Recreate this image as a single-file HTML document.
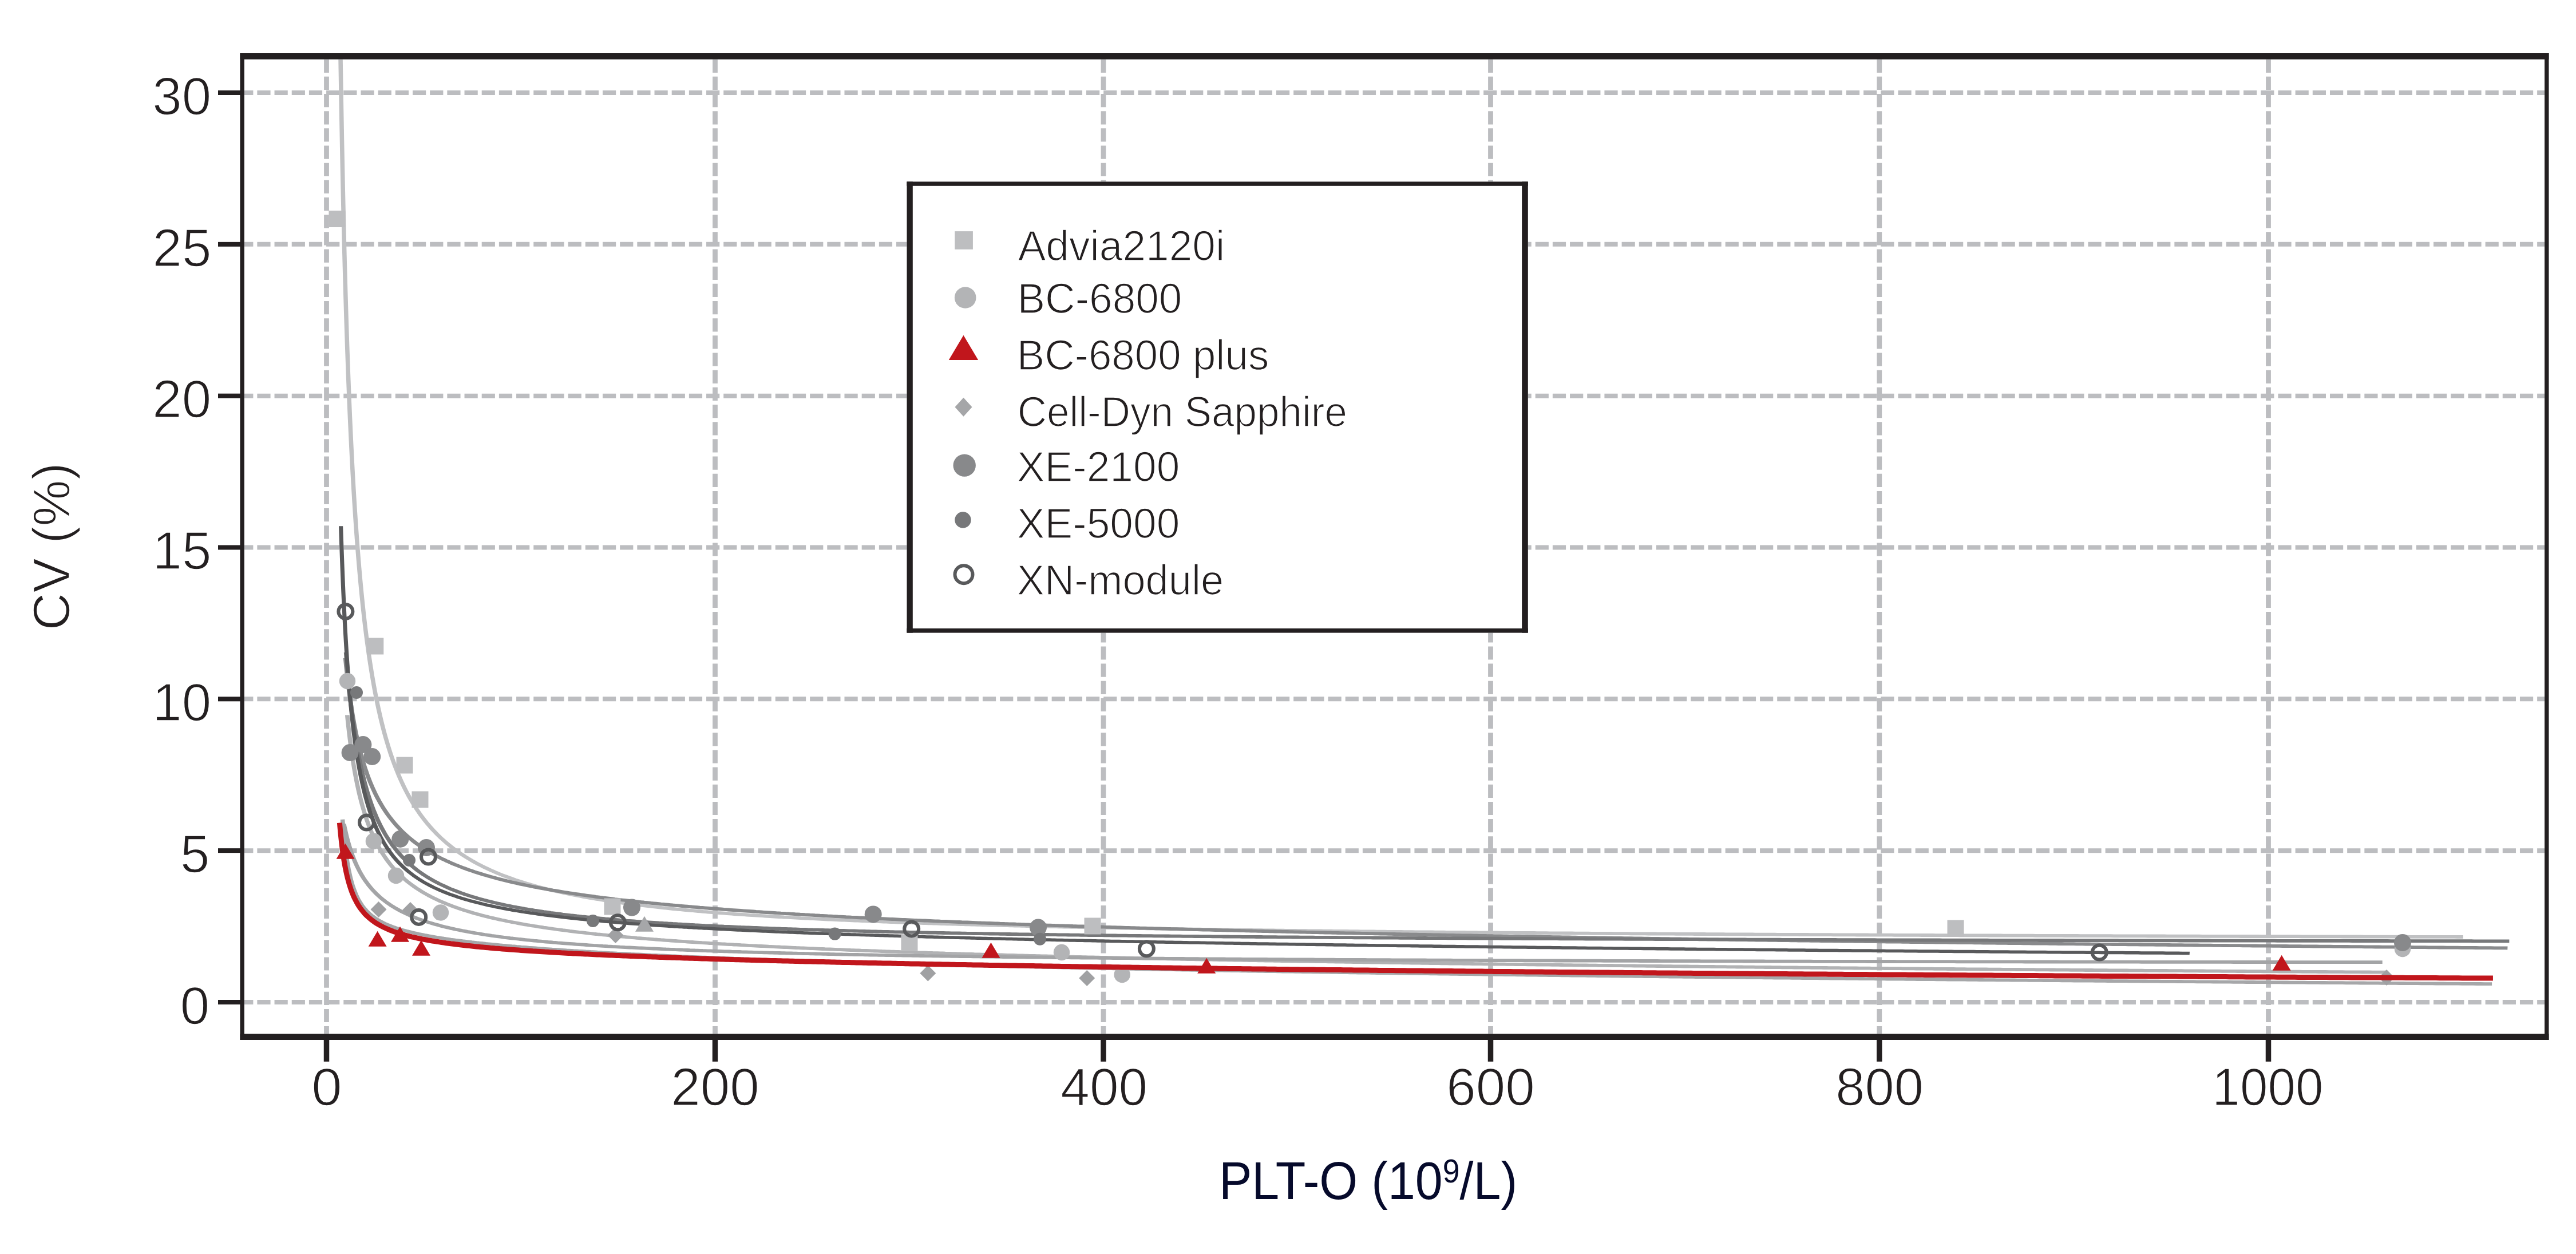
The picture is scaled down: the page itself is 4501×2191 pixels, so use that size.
<!DOCTYPE html>
<html><head><meta charset="utf-8"><style>
html,body{margin:0;padding:0;background:#ffffff;width:4501px;height:2191px;overflow:hidden}
svg{display:block}
text{font-family:"Liberation Sans",sans-serif}
</style></head><body>
<svg width="4501" height="2191" viewBox="0 0 4501 2191"><clipPath id="pc"><rect x="427.0" y="104.0" width="4019.0" height="1702.0"/></clipPath>
<g clip-path="url(#pc)">
<line x1="419.2" y1="1751.00" x2="4460" y2="1751.00" stroke="#bcbdc0" stroke-width="8" stroke-dasharray="23.2 6.98"/>
<line x1="419.2" y1="1486.16" x2="4460" y2="1486.16" stroke="#bcbdc0" stroke-width="8" stroke-dasharray="23.2 6.98"/>
<line x1="419.2" y1="1221.33" x2="4460" y2="1221.33" stroke="#bcbdc0" stroke-width="8" stroke-dasharray="23.2 6.98"/>
<line x1="419.2" y1="956.50" x2="4460" y2="956.50" stroke="#bcbdc0" stroke-width="8" stroke-dasharray="23.2 6.98"/>
<line x1="419.2" y1="691.66" x2="4460" y2="691.66" stroke="#bcbdc0" stroke-width="8" stroke-dasharray="23.2 6.98"/>
<line x1="419.2" y1="426.83" x2="4460" y2="426.83" stroke="#bcbdc0" stroke-width="8" stroke-dasharray="23.2 6.98"/>
<line x1="419.2" y1="161.99" x2="4460" y2="161.99" stroke="#bcbdc0" stroke-width="8" stroke-dasharray="23.2 6.98"/>
<line x1="570.50" y1="103.7" x2="570.50" y2="1817" stroke="#bcbdc0" stroke-width="8.8" stroke-dasharray="23.2 6.967"/>
<line x1="1249.50" y1="103.7" x2="1249.50" y2="1817" stroke="#bcbdc0" stroke-width="8.8" stroke-dasharray="23.2 6.967"/>
<line x1="1928.00" y1="103.7" x2="1928.00" y2="1817" stroke="#bcbdc0" stroke-width="8.8" stroke-dasharray="23.2 6.967"/>
<line x1="2604.50" y1="103.7" x2="2604.50" y2="1817" stroke="#bcbdc0" stroke-width="8.8" stroke-dasharray="23.2 6.967"/>
<line x1="3283.80" y1="103.7" x2="3283.80" y2="1817" stroke="#bcbdc0" stroke-width="8.8" stroke-dasharray="23.2 6.967"/>
<line x1="3963.50" y1="103.7" x2="3963.50" y2="1817" stroke="#bcbdc0" stroke-width="8.8" stroke-dasharray="23.2 6.967"/>
</g>
<g clip-path="url(#pc)" fill="none" stroke-linecap="butt" stroke-linejoin="round">
<g transform="scale(1.3,1)">
<path d="M457.66,97.7 L457.71,101.8 L457.76,105.8 L457.80,109.8 L457.85,113.9 L457.90,117.9 L457.95,121.9 L458.02,127.2 L458.08,132.5 L458.15,137.8 L458.22,143.1 L458.28,148.3 L458.35,153.6 L458.42,158.8 L458.49,164.0 L458.55,169.2 L458.62,174.3 L458.69,179.5 L458.76,184.6 L458.83,189.7 L458.90,194.8 L458.97,199.8 L459.04,204.9 L459.11,209.9 L459.18,215.0 L459.25,220.0 L459.32,224.9 L459.39,229.9 L459.46,234.8 L459.53,239.8 L459.60,244.7 L459.67,249.6 L459.74,254.5 L459.82,259.3 L459.89,264.2 L459.96,269.0 L460.03,273.8 L460.11,278.6 L460.18,283.4 L460.26,288.2 L460.33,292.9 L460.40,297.6 L460.48,302.3 L460.55,307.0 L460.63,311.7 L460.70,316.4 L460.78,321.0 L460.85,325.7 L460.93,330.3 L461.01,334.9 L461.08,339.5 L461.16,344.0 L461.24,348.6 L461.31,353.1 L461.39,357.6 L461.47,362.1 L461.55,366.6 L461.63,371.1 L461.70,375.5 L461.78,380.0 L461.86,384.4 L461.94,388.8 L462.02,393.2 L462.10,397.6 L462.18,402.0 L462.26,406.3 L462.34,410.6 L462.43,415.0 L462.51,419.3 L462.59,423.6 L462.67,427.8 L462.75,432.1 L462.84,436.3 L462.92,440.6 L463.00,444.8 L463.09,449.0 L463.17,453.2 L463.25,457.3 L463.34,461.5 L463.42,465.6 L463.51,469.7 L463.59,473.9 L463.68,478.0 L463.76,482.0 L463.85,486.1 L463.94,490.2 L464.02,494.2 L464.11,498.2 L464.20,502.2 L464.28,506.2 L464.39,511.2 L464.50,516.2 L464.62,521.1 L464.73,526.0 L464.84,530.9 L464.95,535.8 L465.06,540.6 L465.18,545.5 L465.29,550.3 L465.40,555.1 L465.52,559.8 L465.63,564.6 L465.75,569.3 L465.87,574.0 L465.98,578.7 L466.10,583.4 L466.22,588.0 L466.34,592.6 L466.46,597.2 L466.57,601.8 L466.69,606.4 L466.81,610.9 L466.94,615.4 L467.06,619.9 L467.18,624.4 L467.30,628.9 L467.42,633.3 L467.55,637.8 L467.67,642.2 L467.80,646.6 L467.92,650.9 L468.05,655.3 L468.17,659.6 L468.30,663.9 L468.43,668.2 L468.55,672.5 L468.68,676.7 L468.81,681.0 L468.94,685.2 L469.07,689.4 L469.20,693.6 L469.33,697.7 L469.46,701.9 L469.60,706.0 L469.73,710.1 L469.86,714.2 L470.00,718.3 L470.13,722.3 L470.27,726.4 L470.40,730.4 L470.54,734.4 L470.70,739.2 L470.87,743.9 L471.04,748.7 L471.20,753.4 L471.37,758.1 L471.54,762.7 L471.71,767.3 L471.88,771.9 L472.05,776.5 L472.22,781.1 L472.40,785.6 L472.57,790.1 L472.74,794.6 L472.92,799.1 L473.10,803.5 L473.27,808.0 L473.45,812.4 L473.63,816.7 L473.81,821.1 L473.99,825.4 L474.18,829.7 L474.36,834.0 L474.54,838.2 L474.73,842.5 L474.91,846.7 L475.10,850.9 L475.29,855.1 L475.48,859.2 L475.67,863.3 L475.86,867.4 L476.05,871.5 L476.24,875.6 L476.44,879.6 L476.63,883.7 L476.83,887.7 L477.06,892.3 L477.29,896.9 L477.52,901.5 L477.76,906.1 L477.99,910.6 L478.23,915.1 L478.47,919.6 L478.71,924.0 L478.95,928.4 L479.19,932.8 L479.44,937.2 L479.68,941.5 L479.93,945.8 L480.18,950.1 L480.43,954.4 L480.68,958.6 L480.93,962.8 L481.19,967.0 L481.45,971.2 L481.70,975.3 L481.96,979.4 L482.22,983.5 L482.49,987.5 L482.75,991.6 L483.02,995.6 L483.32,1000.1 L483.63,1004.6 L483.94,1009.1 L484.25,1013.6 L484.57,1018.0 L484.88,1022.4 L485.20,1026.8 L485.52,1031.1 L485.84,1035.4 L486.17,1039.7 L486.50,1043.9 L486.83,1048.1 L487.16,1052.3 L487.49,1056.5 L487.83,1060.6 L488.17,1064.7 L488.51,1068.7 L488.85,1072.8 L489.20,1076.8 L489.55,1080.8 L489.94,1085.2 L490.34,1089.6 L490.74,1094.0 L491.15,1098.4 L491.56,1102.7 L491.97,1106.9 L492.38,1111.2 L492.80,1115.4 L493.22,1119.6 L493.64,1123.7 L494.07,1127.8 L494.50,1131.9 L494.93,1136.0 L495.37,1140.0 L495.81,1144.0 L496.30,1148.4 L496.80,1152.7 L497.30,1157.0 L497.81,1161.3 L498.32,1165.5 L498.83,1169.7 L499.35,1173.9 L499.88,1178.0 L500.40,1182.1 L500.94,1186.2 L501.47,1190.2 L502.02,1194.2 L502.56,1198.2 L503.17,1202.5 L503.78,1206.7 L504.40,1211.0 L505.03,1215.1 L505.66,1219.3 L506.30,1223.4 L506.94,1227.5 L507.59,1231.5 L508.24,1235.5 L508.90,1239.4 L509.57,1243.3 L510.31,1247.6 L511.05,1251.8 L511.80,1255.9 L512.56,1260.0 L513.33,1264.0 L514.10,1268.1 L514.88,1272.0 L515.67,1276.0 L516.47,1279.8 L517.35,1284.0 L518.23,1288.1 L519.13,1292.2 L520.03,1296.2 L520.95,1300.2 L521.87,1304.1 L522.81,1308.0 L523.75,1311.9 L524.71,1315.7 L525.75,1319.7 L526.81,1323.7 L527.88,1327.7 L528.96,1331.6 L530.05,1335.4 L531.16,1339.2 L532.28,1343.0 L533.50,1347.0 L534.73,1350.9 L535.98,1354.8 L537.24,1358.6 L538.52,1362.4 L539.82,1366.1 L541.14,1369.8 L542.47,1373.4 L543.91,1377.2 L545.37,1381.0 L546.84,1384.7 L548.35,1388.4 L549.87,1392.0 L551.41,1395.5 L552.97,1399.0 L554.56,1402.5 L556.16,1405.9 L557.90,1409.5 L559.65,1413.0 L561.44,1416.5 L563.25,1419.9 L565.08,1423.3 L566.95,1426.6 L568.84,1429.8 L570.76,1433.1 L572.71,1436.2 L574.68,1439.4 L576.69,1442.4 L578.72,1445.5 L580.79,1448.5 L582.89,1451.4 L585.01,1454.3 L587.17,1457.2 L589.36,1460.0 L591.58,1462.8 L593.84,1465.5 L596.13,1468.2 L598.45,1470.9 L600.81,1473.5 L603.20,1476.0 L605.62,1478.6 L608.09,1481.1 L610.58,1483.5 L613.12,1486.0 L615.69,1488.4 L618.30,1490.7 L620.95,1493.0 L623.64,1495.3 L626.37,1497.6 L629.14,1499.8 L631.78,1501.8 L634.46,1503.9 L637.18,1505.9 L639.94,1507.9 L642.73,1509.8 L645.56,1511.7 L648.43,1513.6 L651.34,1515.5 L654.30,1517.3 L657.10,1519.0 L659.94,1520.7 L662.82,1522.3 L665.73,1524.0 L668.69,1525.6 L671.68,1527.2 L674.71,1528.8 L677.78,1530.3 L680.68,1531.7 L683.62,1533.2 L686.59,1534.5 L689.60,1535.9 L692.64,1537.3 L695.73,1538.6 L698.85,1540.0 L702.00,1541.3 L704.97,1542.5 L707.97,1543.7 L711.00,1544.8 L714.07,1546.0 L717.17,1547.1 L720.31,1548.3 L723.48,1549.4 L726.69,1550.5 L729.68,1551.5 L732.71,1552.5 L735.76,1553.5 L738.85,1554.5 L741.97,1555.5 L745.12,1556.4 L748.31,1557.4 L751.53,1558.3 L754.78,1559.3 L757.79,1560.1 L760.83,1560.9 L763.90,1561.8 L767.00,1562.6 L770.12,1563.4 L773.28,1564.2 L776.47,1565.0 L779.68,1565.8 L782.93,1566.6 L786.21,1567.4 L789.52,1568.1 L792.56,1568.8 L795.62,1569.5 L798.71,1570.2 L801.82,1570.9 L804.97,1571.5 L808.14,1572.2 L811.34,1572.8 L814.56,1573.5 L817.81,1574.1 L821.10,1574.8 L824.41,1575.4 L827.74,1576.0 L831.11,1576.6 L834.17,1577.2 L837.25,1577.8 L840.35,1578.3 L843.48,1578.8 L846.63,1579.4 L849.81,1579.9 L853.01,1580.4 L856.23,1581.0 L859.49,1581.5 L862.76,1582.0 L866.06,1582.5 L869.39,1583.0 L872.75,1583.5 L876.13,1584.0 L879.53,1584.5 L882.97,1585.0 L886.04,1585.4 L889.13,1585.9 L892.25,1586.3 L895.39,1586.7 L898.55,1587.2 L901.73,1587.6 L904.93,1588.0 L908.16,1588.4 L911.41,1588.8 L914.68,1589.2 L917.97,1589.6 L921.29,1590.0 L924.63,1590.4 L927.99,1590.8 L931.38,1591.2 L934.78,1591.6 L938.22,1592.0 L941.67,1592.4 L945.15,1592.8 L948.66,1593.1 L951.74,1593.5 L954.85,1593.8 L957.97,1594.1 L961.11,1594.4 L964.28,1594.8 L967.46,1595.1 L970.66,1595.4 L973.88,1595.7 L977.12,1596.0 L980.37,1596.3 L983.65,1596.6 L986.95,1597.0 L990.27,1597.3 L993.61,1597.6 L996.96,1597.9 L1000.34,1598.2 L1003.74,1598.5 L1007.16,1598.8 L1010.60,1599.1 L1014.06,1599.4 L1017.54,1599.6 L1021.05,1599.9 L1024.57,1600.2 L1028.12,1600.5 L1031.68,1600.8 L1034.76,1601.0 L1037.85,1601.3 L1040.96,1601.5 L1044.08,1601.8 L1047.22,1602.0 L1050.37,1602.2 L1053.55,1602.5 L1056.73,1602.7 L1059.94,1602.9 L1063.16,1603.2 L1066.40,1603.4 L1069.65,1603.6 L1072.92,1603.8 L1076.21,1604.1 L1079.52,1604.3 L1082.84,1604.5 L1086.18,1604.7 L1089.54,1605.0 L1092.91,1605.2 L1096.31,1605.4 L1099.72,1605.6 L1103.14,1605.8 L1106.59,1606.0 L1110.05,1606.3 L1113.53,1606.5 L1117.03,1606.7 L1120.55,1606.9 L1124.09,1607.1 L1127.64,1607.3 L1131.21,1607.5 L1134.80,1607.7 L1138.41,1607.9 L1142.04,1608.1 L1145.69,1608.3 L1149.35,1608.5 L1153.04,1608.7 L1156.12,1608.9 L1159.22,1609.1 L1162.34,1609.2 L1165.46,1609.4 L1168.60,1609.6 L1171.75,1609.7 L1174.92,1609.9 L1178.10,1610.0 L1181.29,1610.2 L1184.50,1610.4 L1187.72,1610.5 L1190.96,1610.7 L1194.21,1610.8 L1197.47,1611.0 L1200.75,1611.2 L1204.04,1611.3 L1207.34,1611.5 L1210.66,1611.6 L1214.00,1611.8 L1217.35,1611.9 L1220.71,1612.1 L1224.09,1612.2 L1227.48,1612.4 L1230.89,1612.5 L1234.31,1612.7 L1237.75,1612.8 L1241.20,1613.0 L1244.66,1613.1 L1248.15,1613.3 L1251.64,1613.4 L1255.15,1613.6 L1258.68,1613.7 L1262.22,1613.9 L1265.78,1614.0 L1269.35,1614.1 L1272.94,1614.3 L1276.54,1614.4 L1280.16,1614.6 L1283.80,1614.7 L1287.45,1614.8 L1291.11,1615.0 L1294.79,1615.1 L1298.49,1615.3 L1302.21,1615.4 L1305.94,1615.5 L1309.68,1615.7 L1313.44,1615.8 L1317.22,1615.9 L1321.02,1616.1 L1324.83,1616.2 L1328.66,1616.3 L1332.50,1616.5 L1335.59,1616.6 L1338.69,1616.7 L1341.79,1616.8 L1344.91,1616.9 L1348.04,1617.0 L1351.19,1617.1 L1354.34,1617.2 L1357.50,1617.3 L1360.67,1617.4 L1363.86,1617.5 L1367.05,1617.6 L1370.26,1617.7 L1373.48,1617.8 L1376.71,1617.9 L1379.95,1618.0 L1383.20,1618.1 L1386.46,1618.2 L1389.73,1618.3 L1393.02,1618.4 L1396.32,1618.5 L1399.62,1618.6 L1402.94,1618.7 L1406.27,1618.8 L1409.62,1618.9 L1412.97,1619.0 L1416.33,1619.1 L1419.71,1619.2 L1423.10,1619.3 L1426.50,1619.4 L1429.91,1619.5 L1433.34,1619.6 L1436.77,1619.7 L1440.22,1619.8 L1443.68,1619.9 L1447.15,1619.9 L1450.63,1620.0 L1454.13,1620.1 L1457.64,1620.2 L1461.16,1620.3 L1464.69,1620.4 L1468.23,1620.5 L1471.79,1620.6 L1475.36,1620.7 L1478.94,1620.8 L1482.53,1620.9 L1486.14,1620.9 L1489.75,1621.0 L1493.38,1621.1 L1497.03,1621.2 L1500.68,1621.3 L1504.35,1621.4 L1508.03,1621.5 L1511.73,1621.6 L1515.43,1621.7 L1519.15,1621.7 L1522.88,1621.8 L1526.63,1621.9 L1530.39,1622.0 L1534.16,1622.1 L1537.94,1622.2 L1541.74,1622.3 L1545.55,1622.3 L1549.37,1622.4 L1553.21,1622.5 L1557.06,1622.6 L1560.92,1622.7 L1564.80,1622.8 L1568.69,1622.8 L1572.59,1622.9 L1576.51,1623.0 L1580.44,1623.1 L1584.38,1623.2 L1588.34,1623.2 L1592.31,1623.3 L1596.29,1623.4 L1600.29,1623.5 L1604.31,1623.6 L1608.33,1623.7 L1612.37,1623.7 L1616.43,1623.8 L1620.49,1623.9 L1624.58,1624.0 L1628.67,1624.0 L1631.75,1624.1 L1634.84,1624.2 L1637.94,1624.2 L1641.05,1624.3 L1644.16,1624.3 L1647.28,1624.4 L1650.41,1624.5 L1653.55,1624.5 L1656.70,1624.6 L1659.85,1624.6 L1663.01,1624.7 L1666.18,1624.7 L1669.36,1624.8 L1672.55,1624.9 L1675.74,1624.9 L1678.95,1625.0 L1682.16,1625.0 L1685.38,1625.1 L1688.61,1625.1 L1691.84,1625.2 L1695.09,1625.2 L1698.34,1625.3 L1701.60,1625.4 L1704.87,1625.4 L1708.15,1625.5 L1711.44,1625.5 L1714.74,1625.6 L1718.04,1625.6 L1721.35,1625.7 L1724.68,1625.7 L1728.01,1625.8 L1731.34,1625.8 L1734.69,1625.9 L1738.05,1626.0 L1741.41,1626.0 L1744.79,1626.1 L1748.17,1626.1 L1751.56,1626.2 L1754.96,1626.2 L1758.37,1626.3 L1761.78,1626.3 L1765.21,1626.4 L1768.65,1626.4 L1772.09,1626.5 L1775.54,1626.5 L1779.01,1626.6 L1782.48,1626.6 L1785.96,1626.7 L1789.44,1626.7 L1792.94,1626.8 L1796.45,1626.8 L1799.97,1626.9 L1803.49,1626.9 L1807.03,1627.0 L1810.57,1627.0 L1814.12,1627.1 L1817.68,1627.1 L1821.25,1627.2 L1824.83,1627.2 L1828.42,1627.3 L1832.02,1627.3 L1835.63,1627.4 L1839.25,1627.4 L1842.88,1627.5 L1846.51,1627.5 L1850.16,1627.6 L1853.81,1627.6 L1857.48,1627.7 L1861.15,1627.7 L1864.83,1627.8 L1868.53,1627.8 L1872.23,1627.9 L1875.94,1627.9 L1879.66,1628.0 L1883.40,1628.0 L1887.14,1628.1 L1890.89,1628.1 L1894.65,1628.2 L1898.42,1628.2 L1902.20,1628.3 L1905.99,1628.3 L1909.79,1628.4 L1913.60,1628.4 L1917.42,1628.4 L1921.25,1628.5 L1925.09,1628.5 L1928.94,1628.6 L1932.79,1628.6 L1936.66,1628.7 L1940.54,1628.7 L1944.43,1628.8 L1948.33,1628.8 L1952.24,1628.9 L1956.16,1628.9 L1960.09,1629.0 L1964.03,1629.0 L1967.98,1629.0 L1971.94,1629.1 L1975.91,1629.1 L1979.89,1629.2 L1983.88,1629.2 L1987.88,1629.3 L1991.90,1629.3 L1995.92,1629.4 L1999.95,1629.4 L2003.99,1629.4 L2008.05,1629.5 L2012.11,1629.5 L2016.19,1629.6 L2020.27,1629.6 L2024.37,1629.7 L2028.47,1629.7 L2032.59,1629.7 L2036.72,1629.8 L2040.86,1629.8 L2045.01,1629.9 L2049.17,1629.9 L2053.34,1630.0 L2057.52,1630.0 L2061.71,1630.0 L2065.91,1630.1 L2070.13,1630.1 L2074.35,1630.2 L2078.59,1630.2 L2082.83,1630.3 L2087.09,1630.3 L2091.36,1630.3 L2095.64,1630.4 L2099.93,1630.4 L2104.23,1630.5 L2108.55,1630.5 L2112.87,1630.5 L2117.21,1630.6 L2121.55,1630.6 L2125.91,1630.7 L2130.28,1630.7 L2134.66,1630.7 L2139.05,1630.8 L2143.46,1630.8 L2147.87,1630.9 L2152.30,1630.9 L2156.73,1630.9 L2161.18,1631.0 L2165.64,1631.0 L2170.12,1631.1 L2174.60,1631.1 L2179.10,1631.1 L2183.60,1631.2 L2188.12,1631.2 L2192.65,1631.3 L2197.19,1631.3 L2201.75,1631.3 L2206.31,1631.4 L2210.89,1631.4 L2215.48,1631.5 L2220.08,1631.5 L2224.70,1631.5 L2227.78,1631.6 L2230.86,1631.6 L2233.96,1631.6 L2237.06,1631.6 L2240.16,1631.7 L2243.27,1631.7 L2246.38,1631.7 L2249.50,1631.7 L2252.63,1631.8 L2255.76,1631.8 L2258.89,1631.8 L2262.03,1631.8 L2265.18,1631.9 L2268.33,1631.9 L2271.49,1631.9 L2274.65,1631.9 L2277.82,1632.0 L2280.99,1632.0 L2284.17,1632.0 L2287.36,1632.0 L2290.55,1632.0 L2293.74,1632.1 L2296.95,1632.1 L2300.15,1632.1 L2303.36,1632.1 L2306.58,1632.2 L2309.81,1632.2 L2313.03,1632.2 L2316.27,1632.2 L2319.51,1632.3 L2322.76,1632.3 L2326.01,1632.3 L2329.26,1632.3 L2332.53,1632.4 L2335.79,1632.4 L2339.07,1632.4 L2342.35,1632.4 L2345.63,1632.5 L2348.92,1632.5 L2352.22,1632.5 L2355.52,1632.5 L2358.83,1632.6 L2362.14,1632.6 L2365.46,1632.6 L2368.79,1632.6 L2372.12,1632.6 L2375.46,1632.7 L2378.80,1632.7 L2382.15,1632.7 L2385.50,1632.7 L2388.86,1632.8 L2392.22,1632.8 L2395.60,1632.8 L2398.97,1632.8 L2402.36,1632.9 L2405.74,1632.9 L2409.14,1632.9 L2412.54,1632.9 L2415.95,1632.9 L2419.36,1633.0 L2422.78,1633.0 L2426.20,1633.0 L2429.63,1633.0 L2433.07,1633.1 L2436.51,1633.1 L2439.96,1633.1 L2443.41,1633.1 L2446.87,1633.1 L2450.33,1633.2 L2453.81,1633.2 L2457.28,1633.2 L2460.77,1633.2 L2464.26,1633.3 L2467.75,1633.3 L2471.25,1633.3 L2474.76,1633.3 L2478.27,1633.3 L2481.79,1633.4 L2485.32,1633.4 L2488.85,1633.4 L2492.39,1633.4 L2495.93,1633.5 L2499.48,1633.5 L2503.04,1633.5 L2506.60,1633.5 L2510.17,1633.5 L2513.75,1633.6 L2517.33,1633.6 L2520.91,1633.6 L2524.51,1633.6 L2528.11,1633.6 L2531.71,1633.7 L2535.32,1633.7 L2538.94,1633.7 L2542.57,1633.7 L2546.20,1633.8 L2549.84,1633.8 L2553.48,1633.8 L2557.13,1633.8 L2560.78,1633.8 L2564.45,1633.9 L2568.11,1633.9 L2571.79,1633.9 L2575.47,1633.9 L2579.16,1633.9 L2582.85,1634.0 L2586.55,1634.0 L2590.26,1634.0 L2593.97,1634.0 L2597.69,1634.0 L2601.42,1634.1 L2605.15,1634.1 L2608.89,1634.1 L2612.63,1634.1 L2616.38,1634.2 L2620.14,1634.2 L2623.91,1634.2 L2627.68,1634.2 L2631.46,1634.2 L2635.24,1634.3 L2639.03,1634.3 L2642.83,1634.3 L2646.63,1634.3 L2650.44,1634.3 L2654.26,1634.4 L2658.08,1634.4 L2661.91,1634.4 L2665.75,1634.4 L2669.59,1634.4 L2673.44,1634.5 L2677.30,1634.5 L2681.16,1634.5 L2685.03,1634.5 L2688.91,1634.5 L2692.79,1634.6 L2696.68,1634.6 L2700.58,1634.6 L2704.48,1634.6 L2708.39,1634.6 L2712.31,1634.6 L2716.23,1634.7 L2720.16,1634.7 L2724.10,1634.7 L2728.04,1634.7 L2731.99,1634.7 L2735.95,1634.8 L2739.92,1634.8 L2743.89,1634.8 L2747.87,1634.8 L2751.85,1634.8 L2755.84,1634.9 L2759.84,1634.9 L2763.85,1634.9 L2767.86,1634.9 L2771.88,1634.9 L2775.91,1635.0 L2779.94,1635.0 L2783.98,1635.0 L2788.03,1635.0 L2792.08,1635.0 L2796.14,1635.1 L2800.21,1635.1 L2804.29,1635.1 L2808.37,1635.1 L2812.46,1635.1 L2816.55,1635.1 L2820.66,1635.2 L2824.77,1635.2 L2828.89,1635.2 L2833.01,1635.2 L2837.14,1635.2 L2841.28,1635.3 L2845.43,1635.3 L2849.58,1635.3 L2853.74,1635.3 L2857.91,1635.3 L2862.09,1635.3 L2866.27,1635.4 L2870.46,1635.4 L2874.65,1635.4 L2878.86,1635.4 L2883.07,1635.4 L2887.29,1635.5 L2891.51,1635.5 L2895.75,1635.5 L2899.99,1635.5 L2904.23,1635.5 L2908.49,1635.5 L2912.75,1635.6 L2917.02,1635.6 L2921.30,1635.6 L2925.58,1635.6 L2929.87,1635.6 L2934.17,1635.6 L2938.48,1635.7 L2942.79,1635.7 L2947.11,1635.7 L2951.44,1635.7 L2955.78,1635.7 L2960.12,1635.8 L2964.47,1635.8 L2968.83,1635.8 L2973.20,1635.8 L2977.57,1635.8 L2981.95,1635.8 L2986.34,1635.9 L2990.74,1635.9 L2995.14,1635.9 L2999.56,1635.9 L3003.98,1635.9 L3008.40,1635.9 L3012.84,1636.0 L3017.28,1636.0 L3021.73,1636.0 L3026.19,1636.0 L3030.65,1636.0 L3035.13,1636.0 L3039.61,1636.1 L3044.09,1636.1 L3048.59,1636.1 L3053.10,1636.1 L3057.61,1636.1 L3062.13,1636.1 L3066.65,1636.2 L3071.19,1636.2 L3075.73,1636.2 L3080.28,1636.2 L3084.84,1636.2 L3089.41,1636.2 L3093.98,1636.3 L3098.57,1636.3 L3103.16,1636.3 L3107.75,1636.3 L3112.36,1636.3 L3116.97,1636.3 L3121.60,1636.4 L3126.23,1636.4 L3130.86,1636.4 L3135.51,1636.4 L3140.16,1636.4 L3144.83,1636.4 L3149.50,1636.5 L3154.17,1636.5 L3158.86,1636.5 L3163.55,1636.5 L3168.26,1636.5 L3172.97,1636.5 L3177.69,1636.6 L3182.41,1636.6 L3187.15,1636.6 L3191.89,1636.6 L3196.64,1636.6 L3201.40,1636.6 L3206.17,1636.6 L3210.95,1636.7 L3215.73,1636.7 L3220.52,1636.7 L3225.32,1636.7 L3230.13,1636.7 L3234.95,1636.7 L3239.78,1636.8 L3244.61,1636.8 L3249.45,1636.8 L3254.30,1636.8 L3259.16,1636.8 L3264.03,1636.8 L3268.90,1636.8 L3273.79,1636.9 L3278.68,1636.9 L3283.58,1636.9 L3288.49,1636.9 L3293.41,1636.9 L3298.34,1636.9 L3303.27,1637.0 L3308.22,1637.0 L3310.69,1637.0" stroke="#c0c1c3" stroke-width="5.8"/>
<path d="M466.69,1249.4 L467.02,1253.7 L467.34,1257.8 L467.68,1261.9 L468.01,1266.0 L468.36,1270.1 L468.70,1274.1 L469.08,1278.3 L469.45,1282.5 L469.84,1286.6 L470.23,1290.7 L470.62,1294.8 L471.02,1298.8 L471.45,1303.0 L471.88,1307.2 L472.33,1311.3 L472.77,1315.4 L473.23,1319.4 L473.69,1323.4 L474.18,1327.6 L474.69,1331.7 L475.20,1335.8 L475.71,1339.9 L476.24,1343.8 L476.80,1348.0 L477.37,1352.1 L477.95,1356.2 L478.54,1360.2 L479.14,1364.1 L479.78,1368.2 L480.43,1372.3 L481.09,1376.3 L481.76,1380.3 L482.48,1384.4 L483.21,1388.4 L483.96,1392.4 L484.71,1396.3 L485.52,1400.4 L486.34,1404.4 L487.18,1408.3 L488.03,1412.2 L488.93,1416.2 L489.86,1420.1 L490.80,1424.0 L491.76,1427.8 L492.78,1431.8 L493.82,1435.6 L494.88,1439.4 L496.00,1443.3 L497.16,1447.2 L498.33,1451.0 L499.53,1454.7 L500.80,1458.5 L502.10,1462.2 L503.43,1465.9 L504.78,1469.5 L506.22,1473.2 L507.69,1476.8 L509.19,1480.4 L510.73,1483.9 L512.36,1487.4 L514.03,1490.9 L515.73,1494.3 L517.48,1497.7 L519.26,1501.0 L521.08,1504.3 L522.95,1507.5 L524.93,1510.7 L526.95,1513.9 L529.02,1517.0 L531.15,1520.1 L533.32,1523.1 L535.54,1526.1 L537.82,1529.0 L540.06,1531.7 L542.35,1534.4 L544.70,1537.1 L547.10,1539.7 L549.56,1542.2 L552.07,1544.7 L554.64,1547.2 L557.16,1549.5 L559.75,1551.8 L562.39,1554.1 L565.08,1556.3 L567.73,1558.4 L570.43,1560.5 L573.20,1562.5 L575.90,1564.5 L578.66,1566.4 L581.47,1568.2 L584.35,1570.1 L587.15,1571.8 L590.01,1573.6 L592.93,1575.2 L595.77,1576.8 L598.66,1578.4 L601.61,1580.0 L604.47,1581.4 L607.39,1582.9 L610.35,1584.3 L613.37,1585.7 L616.29,1587.1 L619.26,1588.4 L622.29,1589.7 L625.36,1590.9 L628.33,1592.1 L631.34,1593.3 L634.40,1594.5 L637.51,1595.7 L640.50,1596.8 L643.54,1597.8 L646.62,1598.9 L649.75,1600.0 L652.75,1601.0 L655.79,1601.9 L658.88,1602.9 L662.01,1603.9 L665.18,1604.8 L668.21,1605.7 L671.28,1606.6 L674.39,1607.5 L677.54,1608.3 L680.73,1609.2 L683.76,1610.0 L686.83,1610.8 L689.94,1611.5 L693.09,1612.3 L696.28,1613.1 L699.50,1613.9 L702.55,1614.6 L705.64,1615.3 L708.76,1616.0 L711.91,1616.7 L715.11,1617.3 L718.34,1618.0 L721.61,1618.7 L724.67,1619.3 L727.78,1619.9 L730.91,1620.6 L734.08,1621.2 L737.29,1621.8 L740.53,1622.4 L743.80,1623.0 L746.86,1623.5 L749.94,1624.1 L753.06,1624.6 L756.21,1625.2 L759.39,1625.7 L762.60,1626.2 L765.84,1626.8 L769.11,1627.3 L772.42,1627.8 L775.48,1628.3 L778.57,1628.8 L781.69,1629.2 L784.84,1629.7 L788.01,1630.2 L791.22,1630.6 L794.45,1631.1 L797.72,1631.6 L801.01,1632.0 L804.33,1632.5 L807.69,1632.9 L810.76,1633.3 L813.86,1633.7 L816.99,1634.1 L820.15,1634.5 L823.33,1634.9 L826.53,1635.3 L829.77,1635.7 L833.03,1636.1 L836.31,1636.5 L839.63,1636.9 L842.97,1637.3 L846.34,1637.7 L849.74,1638.1 L852.82,1638.4 L855.93,1638.8 L859.06,1639.1 L862.21,1639.5 L865.39,1639.8 L868.59,1640.2 L871.81,1640.5 L875.06,1640.8 L878.33,1641.2 L881.63,1641.5 L884.95,1641.8 L888.30,1642.2 L891.67,1642.5 L895.07,1642.8 L898.49,1643.1 L901.94,1643.5 L905.03,1643.8 L908.14,1644.0 L911.26,1644.3 L914.41,1644.6 L917.58,1644.9 L920.77,1645.2 L923.99,1645.5 L927.22,1645.8 L930.48,1646.0 L933.75,1646.3 L937.05,1646.6 L940.37,1646.9 L943.72,1647.2 L947.08,1647.4 L950.47,1647.7 L953.88,1648.0 L957.32,1648.2 L960.77,1648.5 L964.25,1648.8 L967.75,1649.1 L970.84,1649.3 L973.94,1649.5 L977.06,1649.8 L980.20,1650.0 L983.35,1650.2 L986.53,1650.5 L989.72,1650.7 L992.93,1650.9 L996.17,1651.2 L999.41,1651.4 L1002.68,1651.6 L1005.97,1651.9 L1009.28,1652.1 L1012.60,1652.3 L1015.95,1652.5 L1019.31,1652.8 L1022.70,1653.0 L1026.10,1653.2 L1029.53,1653.4 L1032.97,1653.7 L1036.43,1653.9 L1039.92,1654.1 L1043.42,1654.3 L1046.95,1654.5 L1050.49,1654.8 L1054.06,1655.0 L1057.65,1655.2 L1060.74,1655.4 L1063.85,1655.6 L1066.97,1655.8 L1070.11,1656.0 L1073.26,1656.1 L1076.43,1656.3 L1079.61,1656.5 L1082.81,1656.7 L1086.03,1656.9 L1089.26,1657.1 L1092.51,1657.2 L1095.78,1657.4 L1099.06,1657.6 L1102.36,1657.8 L1105.67,1658.0 L1109.01,1658.2 L1112.35,1658.3 L1115.72,1658.5 L1119.10,1658.7 L1122.50,1658.9 L1125.91,1659.1 L1129.35,1659.2 L1132.79,1659.4 L1136.26,1659.6 L1139.75,1659.8 L1143.25,1660.0 L1146.77,1660.1 L1150.30,1660.3 L1153.86,1660.5 L1157.43,1660.7 L1161.02,1660.8 L1164.63,1661.0 L1168.25,1661.2 L1171.90,1661.4 L1175.56,1661.5 L1179.24,1661.7 L1182.32,1661.8 L1185.41,1662.0 L1188.52,1662.1 L1191.64,1662.3 L1194.77,1662.4 L1197.92,1662.6 L1201.08,1662.7 L1204.25,1662.9 L1207.43,1663.0 L1210.63,1663.1 L1213.84,1663.3 L1217.07,1663.4 L1220.31,1663.6 L1223.56,1663.7 L1226.82,1663.8 L1230.10,1664.0 L1233.39,1664.1 L1236.70,1664.3 L1240.02,1664.4 L1243.35,1664.5 L1246.70,1664.7 L1250.06,1664.8 L1253.44,1665.0 L1256.83,1665.1 L1260.23,1665.2 L1263.65,1665.4 L1267.08,1665.5 L1270.53,1665.7 L1273.99,1665.8 L1277.47,1665.9 L1280.96,1666.1 L1284.46,1666.2 L1287.98,1666.3 L1291.51,1666.5 L1295.06,1666.6 L1298.62,1666.8 L1302.20,1666.9 L1305.79,1667.0 L1309.40,1667.2 L1313.02,1667.3 L1316.66,1667.4 L1320.32,1667.6 L1323.98,1667.7 L1327.67,1667.8 L1331.37,1668.0 L1335.08,1668.1 L1338.81,1668.2 L1342.55,1668.4 L1346.31,1668.5 L1350.09,1668.6 L1353.88,1668.8 L1357.69,1668.9 L1361.51,1669.0 L1365.35,1669.2 L1368.44,1669.3 L1371.53,1669.4 L1374.63,1669.5 L1377.75,1669.6 L1380.87,1669.7 L1384.01,1669.8 L1387.15,1669.9 L1390.31,1670.0 L1393.47,1670.1 L1396.65,1670.2 L1399.84,1670.3 L1403.03,1670.4 L1406.24,1670.5 L1409.46,1670.6 L1412.69,1670.7 L1415.93,1670.8 L1419.18,1670.9 L1422.45,1671.0 L1425.72,1671.1 L1429.00,1671.3 L1432.30,1671.4 L1435.60,1671.5 L1438.92,1671.6 L1442.25,1671.7 L1445.59,1671.8 L1448.94,1671.9 L1452.30,1672.0 L1455.67,1672.1 L1459.06,1672.2 L1462.45,1672.3 L1465.86,1672.4 L1469.27,1672.5 L1472.70,1672.6 L1476.14,1672.7 L1479.59,1672.8 L1483.06,1672.9 L1486.53,1673.0 L1490.02,1673.1 L1493.52,1673.2 L1497.03,1673.3 L1500.55,1673.4 L1504.08,1673.5 L1507.63,1673.6 L1511.18,1673.7 L1514.75,1673.8 L1518.33,1673.9 L1521.92,1674.0 L1525.53,1674.1 L1529.14,1674.2 L1532.77,1674.3 L1536.41,1674.4 L1540.06,1674.5 L1543.73,1674.6 L1547.40,1674.7 L1551.09,1674.8 L1554.79,1674.9 L1558.51,1675.0 L1562.23,1675.1 L1565.97,1675.2 L1569.72,1675.3 L1573.49,1675.4 L1577.26,1675.5 L1581.05,1675.6 L1584.85,1675.7 L1588.66,1675.8 L1592.49,1675.9 L1596.33,1676.0 L1600.18,1676.1 L1604.05,1676.2 L1607.92,1676.3 L1611.81,1676.4 L1615.72,1676.5 L1619.63,1676.6 L1623.56,1676.6 L1627.50,1676.7 L1631.46,1676.8 L1635.43,1676.9 L1639.41,1677.0 L1643.40,1677.1 L1647.41,1677.2 L1651.44,1677.3 L1655.47,1677.4 L1659.52,1677.5 L1663.58,1677.6 L1667.66,1677.7 L1671.75,1677.8 L1675.85,1677.9 L1678.93,1678.0 L1682.03,1678.0 L1685.13,1678.1 L1688.24,1678.2 L1691.35,1678.3 L1694.48,1678.3 L1697.61,1678.4 L1700.75,1678.5 L1703.90,1678.5 L1707.06,1678.6 L1710.22,1678.7 L1713.39,1678.8 L1716.57,1678.8 L1719.76,1678.9 L1722.95,1679.0 L1726.16,1679.0 L1729.37,1679.1 L1732.59,1679.2 L1735.82,1679.3 L1739.05,1679.3 L1742.29,1679.4 L1745.55,1679.5 L1748.81,1679.5 L1752.07,1679.6 L1755.35,1679.7 L1758.63,1679.7 L1761.93,1679.8 L1765.23,1679.9 L1768.54,1680.0 L1771.85,1680.0 L1775.18,1680.1 L1778.51,1680.2 L1781.86,1680.2 L1785.21,1680.3 L1788.56,1680.4 L1791.93,1680.4 L1795.31,1680.5 L1798.69,1680.6 L1802.08,1680.7 L1805.48,1680.7 L1808.89,1680.8 L1812.31,1680.9 L1815.74,1680.9 L1819.17,1681.0 L1822.62,1681.1 L1826.07,1681.1 L1829.53,1681.2 L1833.00,1681.3 L1836.48,1681.3 L1839.96,1681.4 L1843.46,1681.5 L1846.96,1681.6 L1850.48,1681.6 L1854.00,1681.7 L1857.53,1681.8 L1861.07,1681.8 L1864.61,1681.9 L1868.17,1682.0 L1871.74,1682.0 L1875.31,1682.1 L1878.90,1682.2 L1882.49,1682.2 L1886.09,1682.3 L1889.70,1682.4 L1893.32,1682.4 L1896.95,1682.5 L1900.58,1682.6 L1904.23,1682.7 L1907.89,1682.7 L1911.55,1682.8 L1915.23,1682.9 L1918.91,1682.9 L1922.60,1683.0 L1926.30,1683.1 L1930.01,1683.1 L1933.73,1683.2 L1937.46,1683.3 L1941.20,1683.3 L1944.95,1683.4 L1948.71,1683.5 L1952.47,1683.5 L1956.25,1683.6 L1960.03,1683.7 L1963.83,1683.7 L1967.63,1683.8 L1971.45,1683.9 L1975.27,1683.9 L1979.10,1684.0 L1982.95,1684.1 L1986.80,1684.1 L1990.66,1684.2 L1994.53,1684.3 L1998.41,1684.3 L2002.30,1684.4 L2006.20,1684.5 L2010.11,1684.5 L2014.03,1684.6 L2017.96,1684.7 L2021.90,1684.7 L2025.85,1684.8 L2029.81,1684.9 L2033.78,1684.9 L2037.76,1685.0 L2041.75,1685.1 L2045.75,1685.1 L2049.75,1685.2 L2053.77,1685.3 L2057.80,1685.3 L2061.84,1685.4 L2065.89,1685.5 L2069.95,1685.5 L2074.02,1685.6 L2078.10,1685.7 L2082.19,1685.7 L2086.29,1685.8 L2090.40,1685.9 L2094.52,1685.9 L2098.65,1686.0 L2102.79,1686.1 L2106.94,1686.1 L2111.10,1686.2 L2115.27,1686.3 L2119.45,1686.3 L2123.65,1686.4 L2127.85,1686.5 L2132.06,1686.5 L2136.29,1686.6 L2140.52,1686.7 L2144.77,1686.7 L2149.02,1686.8 L2153.29,1686.9 L2157.57,1686.9 L2161.85,1687.0 L2166.15,1687.0 L2170.46,1687.1 L2174.78,1687.2 L2179.11,1687.2 L2183.45,1687.3 L2187.81,1687.4 L2192.17,1687.4 L2196.54,1687.5 L2200.93,1687.6 L2205.32,1687.6 L2209.73,1687.7 L2214.15,1687.8 L2218.58,1687.8 L2223.02,1687.9 L2227.47,1688.0 L2231.93,1688.0 L2236.40,1688.1 L2240.89,1688.1 L2245.38,1688.2 L2249.89,1688.3 L2254.41,1688.3 L2258.94,1688.4 L2263.48,1688.5 L2268.03,1688.5 L2272.59,1688.6 L2277.17,1688.7 L2281.75,1688.7 L2286.35,1688.8 L2290.96,1688.9 L2294.04,1688.9 L2297.12,1688.9 L2300.21,1689.0 L2303.31,1689.0 L2306.41,1689.1 L2309.51,1689.1 L2312.62,1689.2 L2315.74,1689.2 L2318.86,1689.2 L2321.98,1689.3 L2325.11,1689.3 L2328.25,1689.4 L2331.39,1689.4 L2334.53,1689.5 L2337.69,1689.5 L2340.84,1689.5 L2344.00,1689.6 L2347.17,1689.6 L2350.34,1689.7 L2353.52,1689.7 L2356.71,1689.7 L2359.89,1689.8 L2363.09,1689.8 L2366.29,1689.9 L2369.49,1689.9 L2372.70,1690.0 L2375.91,1690.0 L2379.14,1690.0 L2382.36,1690.1 L2385.59,1690.1 L2388.83,1690.2 L2392.07,1690.2 L2395.32,1690.3 L2398.57,1690.3 L2401.83,1690.3 L2405.09,1690.4 L2408.36,1690.4 L2411.63,1690.5 L2414.91,1690.5 L2418.20,1690.6 L2421.49,1690.6 L2424.78,1690.6 L2428.09,1690.7 L2431.39,1690.7 L2434.71,1690.8 L2438.02,1690.8 L2441.35,1690.8 L2444.68,1690.9 L2448.01,1690.9 L2451.35,1691.0 L2454.70,1691.0 L2458.05,1691.1 L2461.40,1691.1 L2464.77,1691.1 L2468.14,1691.2 L2471.51,1691.2 L2474.89,1691.3 L2478.27,1691.3 L2481.66,1691.3 L2485.06,1691.4 L2488.46,1691.4 L2491.87,1691.5 L2495.28,1691.5 L2498.70,1691.6 L2502.12,1691.6 L2505.55,1691.6 L2508.99,1691.7 L2512.43,1691.7 L2515.88,1691.8 L2519.33,1691.8 L2522.79,1691.8 L2526.25,1691.9 L2529.72,1691.9 L2533.20,1692.0 L2536.68,1692.0 L2540.17,1692.1 L2543.66,1692.1 L2547.16,1692.1 L2550.67,1692.2 L2554.18,1692.2 L2557.69,1692.3 L2561.22,1692.3 L2564.75,1692.3 L2568.28,1692.4 L2571.82,1692.4 L2575.37,1692.5 L2578.92,1692.5 L2582.48,1692.6 L2586.04,1692.6 L2589.61,1692.6 L2593.18,1692.7 L2596.77,1692.7 L2600.35,1692.8 L2603.95,1692.8 L2607.55,1692.8 L2611.15,1692.9 L2614.76,1692.9 L2618.38,1693.0 L2622.00,1693.0 L2625.63,1693.0 L2629.27,1693.1 L2632.91,1693.1 L2636.56,1693.2 L2640.21,1693.2 L2643.87,1693.3 L2647.54,1693.3 L2651.21,1693.3 L2654.89,1693.4 L2658.57,1693.4 L2662.26,1693.5 L2665.96,1693.5 L2669.66,1693.5 L2673.37,1693.6 L2677.08,1693.6 L2680.80,1693.7 L2684.53,1693.7 L2688.26,1693.7 L2692.00,1693.8 L2695.75,1693.8 L2699.50,1693.9 L2703.26,1693.9 L2707.02,1693.9 L2710.79,1694.0 L2714.57,1694.0 L2718.35,1694.1 L2722.14,1694.1 L2725.94,1694.2 L2729.74,1694.2 L2733.55,1694.2 L2737.36,1694.3 L2741.19,1694.3 L2745.01,1694.4 L2748.85,1694.4 L2752.69,1694.4 L2756.53,1694.5 L2760.39,1694.5 L2764.25,1694.6 L2768.11,1694.6 L2771.98,1694.6 L2775.86,1694.7 L2779.75,1694.7 L2783.64,1694.8 L2787.54,1694.8 L2791.44,1694.8 L2795.35,1694.9 L2799.27,1694.9 L2803.20,1695.0 L2807.13,1695.0 L2811.06,1695.0 L2815.01,1695.1 L2818.96,1695.1 L2822.91,1695.2 L2826.88,1695.2 L2830.85,1695.2 L2834.82,1695.3 L2838.81,1695.3 L2842.80,1695.4 L2846.79,1695.4 L2850.80,1695.4 L2854.81,1695.5 L2858.82,1695.5 L2862.85,1695.6 L2866.87,1695.6 L2870.91,1695.6 L2874.95,1695.7 L2879.00,1695.7 L2883.06,1695.8 L2887.12,1695.8 L2891.19,1695.8 L2895.27,1695.9 L2899.35,1695.9 L2903.45,1696.0 L2907.54,1696.0 L2911.65,1696.0 L2915.76,1696.1 L2919.88,1696.1 L2924.00,1696.2 L2928.13,1696.2 L2932.27,1696.2 L2936.41,1696.3 L2940.57,1696.3 L2944.73,1696.4 L2948.89,1696.4 L2953.06,1696.4 L2957.24,1696.5 L2961.43,1696.5 L2965.62,1696.6 L2969.82,1696.6 L2974.03,1696.6 L2978.25,1696.7 L2982.47,1696.7 L2986.70,1696.8 L2990.93,1696.8 L2995.18,1696.8 L2999.43,1696.9 L3003.68,1696.9 L3007.95,1697.0 L3012.22,1697.0 L3016.50,1697.0 L3020.78,1697.1 L3025.07,1697.1 L3029.37,1697.2 L3033.68,1697.2 L3037.99,1697.2 L3042.31,1697.3 L3046.64,1697.3 L3050.98,1697.4 L3055.32,1697.4 L3059.67,1697.4 L3064.03,1697.5 L3068.39,1697.5 L3072.76,1697.6 L3077.14,1697.6 L3081.53,1697.6 L3085.92,1697.7 L3090.32,1697.7 L3094.73,1697.8 L3099.14,1697.8 L3103.57,1697.8 L3108.00,1697.9 L3112.43,1697.9 L3116.88,1698.0 L3121.33,1698.0 L3125.79,1698.0 L3130.26,1698.1 L3134.73,1698.1 L3139.21,1698.2 L3143.70,1698.2 L3148.20,1698.2 L3152.70,1698.3 L3157.21,1698.3 L3161.73,1698.4 L3166.26,1698.4 L3170.79,1698.4 L3175.34,1698.5 L3179.88,1698.5 L3184.44,1698.5 L3189.01,1698.6 L3193.58,1698.6 L3198.16,1698.7 L3202.74,1698.7 L3207.34,1698.7 L3209.64,1698.8" stroke="#b1b2b4" stroke-width="5.8"/>
<path d="M460.39,1431.7 L460.64,1435.8 L460.89,1439.8 L461.16,1444.0 L461.43,1448.1 L461.71,1452.1 L462.01,1456.3 L462.31,1460.4 L462.62,1464.4 L462.96,1468.5 L463.29,1472.6 L463.66,1476.7 L464.03,1480.8 L464.43,1484.9 L464.83,1488.9 L465.27,1493.1 L465.71,1497.1 L466.18,1501.1 L466.68,1505.3 L467.20,1509.2 L467.75,1513.3 L468.33,1517.3 L468.96,1521.4 L469.59,1525.3 L470.27,1529.3 L470.99,1533.2 L471.75,1537.1 L472.57,1541.0 L473.43,1544.8 L474.38,1548.8 L475.38,1552.6 L476.45,1556.4 L477.61,1560.2 L478.85,1564.0 L480.16,1567.6 L481.59,1571.3 L483.10,1574.8 L484.71,1578.2 L486.46,1581.6 L488.32,1584.9 L490.30,1588.0 L492.36,1591.0 L494.55,1593.9 L496.83,1596.7 L499.20,1599.3 L501.67,1601.7 L504.18,1604.1 L506.79,1606.3 L509.45,1608.3 L512.14,1610.3 L514.94,1612.1 L517.78,1613.9 L520.65,1615.6 L523.55,1617.1 L526.48,1618.6 L529.43,1620.0 L532.40,1621.3 L535.38,1622.6 L538.37,1623.8 L541.36,1625.0 L544.35,1626.0 L547.33,1627.1 L550.40,1628.1 L553.46,1629.1 L556.49,1630.0 L559.50,1630.9 L562.59,1631.8 L565.65,1632.6 L568.66,1633.4 L571.75,1634.2 L574.80,1634.9 L577.92,1635.7 L580.98,1636.4 L584.11,1637.1 L587.18,1637.8 L590.31,1638.4 L593.38,1639.0 L596.51,1639.7 L599.56,1640.3 L602.67,1640.9 L605.84,1641.5 L608.92,1642.0 L612.07,1642.6 L615.26,1643.1 L618.37,1643.6 L621.52,1644.2 L624.73,1644.7 L627.84,1645.2 L630.99,1645.7 L634.20,1646.2 L637.29,1646.6 L640.42,1647.1 L643.61,1647.5 L646.85,1648.0 L649.95,1648.4 L653.10,1648.9 L656.30,1649.3 L659.54,1649.7 L662.64,1650.1 L665.79,1650.5 L668.97,1650.9 L672.20,1651.3 L675.27,1651.7 L678.38,1652.0 L681.53,1652.4 L684.73,1652.8 L687.96,1653.2 L691.24,1653.5 L694.34,1653.9 L697.47,1654.2 L700.65,1654.6 L703.86,1654.9 L707.11,1655.2 L710.41,1655.6 L713.50,1655.9 L716.63,1656.2 L719.79,1656.5 L722.99,1656.8 L726.23,1657.2 L729.51,1657.5 L732.82,1657.8 L735.91,1658.1 L739.03,1658.4 L742.18,1658.7 L745.37,1658.9 L748.60,1659.2 L751.85,1659.5 L755.14,1659.8 L758.47,1660.1 L761.54,1660.4 L764.65,1660.6 L767.79,1660.9 L770.96,1661.2 L774.16,1661.4 L777.39,1661.7 L780.65,1661.9 L783.94,1662.2 L787.26,1662.5 L790.62,1662.7 L793.70,1663.0 L796.80,1663.2 L799.94,1663.4 L803.10,1663.7 L806.28,1663.9 L809.50,1664.2 L812.74,1664.4 L816.02,1664.6 L819.32,1664.9 L822.65,1665.1 L826.01,1665.3 L829.39,1665.6 L832.47,1665.8 L835.57,1666.0 L838.69,1666.2 L841.84,1666.4 L845.01,1666.6 L848.21,1666.9 L851.43,1667.1 L854.68,1667.3 L857.95,1667.5 L861.25,1667.7 L864.58,1667.9 L867.93,1668.1 L871.31,1668.3 L874.72,1668.6 L878.15,1668.8 L881.61,1669.0 L884.70,1669.2 L887.82,1669.4 L890.96,1669.5 L894.13,1669.7 L897.31,1669.9 L900.52,1670.1 L903.75,1670.3 L907.00,1670.5 L910.27,1670.7 L913.57,1670.9 L916.89,1671.1 L920.24,1671.2 L923.60,1671.4 L927.00,1671.6 L930.41,1671.8 L933.85,1672.0 L937.31,1672.2 L940.80,1672.4 L944.31,1672.6 L947.40,1672.7 L950.51,1672.9 L953.64,1673.0 L956.79,1673.2 L959.96,1673.4 L963.15,1673.5 L966.36,1673.7 L969.59,1673.9 L972.83,1674.0 L976.10,1674.2 L979.39,1674.4 L982.69,1674.5 L986.02,1674.7 L989.37,1674.8 L992.74,1675.0 L996.13,1675.2 L999.54,1675.3 L1002.97,1675.5 L1006.42,1675.7 L1009.89,1675.8 L1013.38,1676.0 L1016.90,1676.2 L1020.44,1676.3 L1024.00,1676.5 L1027.58,1676.6 L1030.66,1676.8 L1033.76,1676.9 L1036.88,1677.1 L1040.02,1677.2 L1043.17,1677.3 L1046.34,1677.5 L1049.52,1677.6 L1052.72,1677.8 L1055.94,1677.9 L1059.17,1678.0 L1062.43,1678.2 L1065.69,1678.3 L1068.98,1678.5 L1072.28,1678.6 L1075.60,1678.7 L1078.94,1678.9 L1082.30,1679.0 L1085.67,1679.2 L1089.06,1679.3 L1092.47,1679.4 L1095.90,1679.6 L1099.34,1679.7 L1102.80,1679.9 L1106.28,1680.0 L1109.78,1680.1 L1113.30,1680.3 L1116.83,1680.4 L1120.39,1680.6 L1123.96,1680.7 L1127.55,1680.8 L1131.16,1681.0 L1134.79,1681.1 L1138.44,1681.3 L1142.11,1681.4 L1145.79,1681.5 L1148.88,1681.7 L1151.98,1681.8 L1155.09,1681.9 L1158.22,1682.0 L1161.36,1682.1 L1164.52,1682.2 L1167.68,1682.4 L1170.87,1682.5 L1174.06,1682.6 L1177.27,1682.7 L1180.50,1682.8 L1183.74,1682.9 L1186.99,1683.0 L1190.26,1683.2 L1193.54,1683.3 L1196.83,1683.4 L1200.14,1683.5 L1203.47,1683.6 L1206.80,1683.7 L1210.16,1683.9 L1213.53,1684.0 L1216.91,1684.1 L1220.31,1684.2 L1223.72,1684.3 L1227.14,1684.4 L1230.59,1684.6 L1234.04,1684.7 L1237.52,1684.8 L1241.00,1684.9 L1244.51,1685.0 L1248.02,1685.1 L1251.56,1685.3 L1255.10,1685.4 L1258.67,1685.5 L1262.25,1685.6 L1265.84,1685.7 L1269.45,1685.8 L1273.08,1686.0 L1276.72,1686.1 L1280.38,1686.2 L1284.06,1686.3 L1287.75,1686.4 L1291.45,1686.5 L1295.18,1686.7 L1298.92,1686.8 L1302.67,1686.9 L1306.44,1687.0 L1310.23,1687.1 L1314.04,1687.2 L1317.86,1687.3 L1321.70,1687.5 L1324.78,1687.6 L1327.87,1687.6 L1330.98,1687.7 L1334.09,1687.8 L1337.22,1687.9 L1340.35,1688.0 L1343.50,1688.1 L1346.66,1688.2 L1349.83,1688.3 L1353.01,1688.4 L1356.20,1688.5 L1359.40,1688.6 L1362.62,1688.7 L1365.84,1688.8 L1369.08,1688.9 L1372.33,1688.9 L1375.59,1689.0 L1378.86,1689.1 L1382.14,1689.2 L1385.43,1689.3 L1388.74,1689.4 L1392.06,1689.5 L1395.38,1689.6 L1398.72,1689.7 L1402.08,1689.8 L1405.44,1689.9 L1408.81,1690.0 L1412.20,1690.1 L1415.60,1690.2 L1419.01,1690.2 L1422.43,1690.3 L1425.87,1690.4 L1429.31,1690.5 L1432.77,1690.6 L1436.24,1690.7 L1439.72,1690.8 L1443.22,1690.9 L1446.73,1691.0 L1450.24,1691.1 L1453.78,1691.2 L1457.32,1691.3 L1460.88,1691.4 L1464.44,1691.5 L1468.03,1691.5 L1471.62,1691.6 L1475.22,1691.7 L1478.84,1691.8 L1482.47,1691.9 L1486.12,1692.0 L1489.78,1692.1 L1493.44,1692.2 L1497.13,1692.3 L1500.82,1692.4 L1504.53,1692.5 L1508.25,1692.6 L1511.98,1692.7 L1515.73,1692.7 L1519.49,1692.8 L1523.26,1692.9 L1527.05,1693.0 L1530.85,1693.1 L1534.66,1693.2 L1538.49,1693.3 L1542.33,1693.4 L1546.18,1693.5 L1550.05,1693.6 L1553.93,1693.7 L1557.82,1693.8 L1561.73,1693.9 L1565.65,1694.0 L1569.58,1694.0 L1573.53,1694.1 L1577.49,1694.2 L1581.47,1694.3 L1585.46,1694.4 L1589.46,1694.5 L1593.48,1694.6 L1597.51,1694.7 L1601.56,1694.8 L1605.62,1694.9 L1609.69,1695.0 L1613.78,1695.1 L1617.88,1695.2 L1620.97,1695.2 L1624.06,1695.3 L1627.16,1695.4 L1630.27,1695.4 L1633.39,1695.5 L1636.52,1695.6 L1639.65,1695.6 L1642.80,1695.7 L1645.95,1695.8 L1649.11,1695.9 L1652.28,1695.9 L1655.45,1696.0 L1658.64,1696.1 L1661.83,1696.1 L1665.03,1696.2 L1668.24,1696.3 L1671.46,1696.3 L1674.68,1696.4 L1677.92,1696.5 L1681.16,1696.5 L1684.41,1696.6 L1687.68,1696.7 L1690.94,1696.8 L1694.22,1696.8 L1697.51,1696.9 L1700.80,1697.0 L1704.11,1697.0 L1707.42,1697.1 L1710.74,1697.2 L1714.07,1697.2 L1717.40,1697.3 L1720.75,1697.4 L1724.11,1697.5 L1727.47,1697.5 L1730.84,1697.6 L1734.23,1697.7 L1737.62,1697.7 L1741.02,1697.8 L1744.43,1697.9 L1747.84,1697.9 L1751.27,1698.0 L1754.70,1698.1 L1758.15,1698.1 L1761.60,1698.2 L1765.06,1698.3 L1768.54,1698.4 L1772.02,1698.4 L1775.51,1698.5 L1779.00,1698.6 L1782.51,1698.6 L1786.03,1698.7 L1789.56,1698.8 L1793.09,1698.8 L1796.64,1698.9 L1800.19,1699.0 L1803.75,1699.0 L1807.33,1699.1 L1810.91,1699.2 L1814.50,1699.3 L1818.10,1699.3 L1821.71,1699.4 L1825.33,1699.5 L1828.96,1699.5 L1832.60,1699.6 L1836.25,1699.7 L1839.90,1699.7 L1843.57,1699.8 L1847.25,1699.9 L1850.94,1700.0 L1854.63,1700.0 L1858.34,1700.1 L1862.05,1700.2 L1865.78,1700.2 L1869.51,1700.3 L1873.26,1700.4 L1877.01,1700.4 L1880.78,1700.5 L1884.55,1700.6 L1888.34,1700.6 L1892.13,1700.7 L1895.93,1700.8 L1899.75,1700.9 L1903.57,1700.9 L1907.41,1701.0 L1911.25,1701.1 L1915.10,1701.1 L1918.97,1701.2 L1922.84,1701.3 L1926.73,1701.3 L1930.62,1701.4 L1934.53,1701.5 L1938.44,1701.5 L1942.37,1701.6 L1946.30,1701.7 L1950.25,1701.8 L1954.20,1701.8 L1958.17,1701.9 L1962.15,1702.0 L1966.13,1702.0 L1970.13,1702.1 L1974.14,1702.2 L1978.16,1702.2 L1982.19,1702.3 L1986.23,1702.4 L1990.28,1702.4 L1994.34,1702.5 L1998.41,1702.6 L2002.49,1702.7 L2006.59,1702.7 L2010.69,1702.8 L2014.80,1702.9 L2018.93,1702.9 L2023.07,1703.0 L2027.21,1703.1 L2031.37,1703.1 L2035.54,1703.2 L2039.72,1703.3 L2043.91,1703.4 L2048.11,1703.4 L2052.32,1703.5 L2056.54,1703.6 L2060.78,1703.6 L2065.02,1703.7 L2069.28,1703.8 L2073.55,1703.8 L2077.83,1703.9 L2082.12,1704.0 L2086.42,1704.0 L2090.73,1704.1 L2095.06,1704.2 L2099.39,1704.3 L2103.74,1704.3 L2108.10,1704.4 L2112.46,1704.5 L2116.85,1704.5 L2121.24,1704.6 L2125.64,1704.7 L2130.06,1704.7 L2134.48,1704.8 L2138.92,1704.9 L2143.37,1704.9 L2147.83,1705.0 L2152.31,1705.1 L2156.79,1705.2 L2161.29,1705.2 L2165.80,1705.3 L2170.32,1705.4 L2174.85,1705.4 L2179.39,1705.5 L2183.95,1705.6 L2188.52,1705.6 L2193.10,1705.7 L2197.69,1705.8 L2202.29,1705.9 L2206.91,1705.9 L2209.99,1706.0 L2213.08,1706.0 L2216.18,1706.1 L2219.28,1706.1 L2222.38,1706.2 L2225.49,1706.2 L2228.61,1706.2 L2231.73,1706.3 L2234.86,1706.3 L2237.99,1706.4 L2241.13,1706.4 L2244.27,1706.5 L2247.42,1706.5 L2250.58,1706.6 L2253.74,1706.6 L2256.90,1706.7 L2260.07,1706.7 L2263.25,1706.8 L2266.43,1706.8 L2269.62,1706.8 L2272.81,1706.9 L2276.01,1706.9 L2279.22,1707.0 L2282.43,1707.0 L2285.64,1707.1 L2288.87,1707.1 L2292.09,1707.2 L2295.32,1707.2 L2298.56,1707.3 L2301.81,1707.3 L2305.06,1707.4 L2308.31,1707.4 L2311.57,1707.4 L2314.84,1707.5 L2318.11,1707.5 L2321.39,1707.6 L2324.67,1707.6 L2327.96,1707.7 L2331.26,1707.7 L2334.56,1707.8 L2337.86,1707.8 L2341.18,1707.9 L2344.50,1707.9 L2347.82,1708.0 L2351.15,1708.0 L2354.48,1708.0 L2357.83,1708.1 L2361.17,1708.1 L2364.53,1708.2 L2367.89,1708.2 L2371.25,1708.3 L2374.62,1708.3 L2378.00,1708.4 L2381.38,1708.4 L2384.77,1708.5 L2388.16,1708.5 L2391.56,1708.6 L2394.97,1708.6 L2398.38,1708.6 L2401.80,1708.7 L2405.22,1708.7 L2408.65,1708.8 L2412.09,1708.8 L2415.53,1708.9 L2418.98,1708.9 L2422.43,1709.0 L2425.89,1709.0 L2429.36,1709.1 L2432.83,1709.1 L2436.31,1709.2 L2439.79,1709.2 L2443.28,1709.2 L2446.78,1709.3 L2450.28,1709.3 L2453.79,1709.4 L2457.30,1709.4 L2460.82,1709.5 L2464.35,1709.5 L2467.88,1709.6 L2471.42,1709.6 L2474.97,1709.7 L2478.52,1709.7 L2482.08,1709.8 L2485.64,1709.8 L2489.21,1709.9 L2492.79,1709.9 L2496.37,1709.9 L2499.96,1710.0 L2503.55,1710.0 L2507.16,1710.1 L2510.76,1710.1 L2514.38,1710.2 L2518.00,1710.2 L2521.62,1710.3 L2525.26,1710.3 L2528.90,1710.4 L2532.54,1710.4 L2536.19,1710.5 L2539.85,1710.5 L2543.52,1710.5 L2547.19,1710.6 L2550.87,1710.6 L2554.55,1710.7 L2558.24,1710.7 L2561.94,1710.8 L2565.64,1710.8 L2569.35,1710.9 L2573.07,1710.9 L2576.79,1711.0 L2580.52,1711.0 L2584.25,1711.1 L2588.00,1711.1 L2591.74,1711.1 L2595.50,1711.2 L2599.26,1711.2 L2603.03,1711.3 L2606.81,1711.3 L2610.59,1711.4 L2614.37,1711.4 L2618.17,1711.5 L2621.97,1711.5 L2625.78,1711.6 L2629.59,1711.6 L2633.41,1711.7 L2637.24,1711.7 L2641.08,1711.7 L2644.92,1711.8 L2648.77,1711.8 L2652.62,1711.9 L2656.48,1711.9 L2660.35,1712.0 L2664.23,1712.0 L2668.11,1712.1 L2672.00,1712.1 L2675.89,1712.2 L2679.79,1712.2 L2683.70,1712.3 L2687.62,1712.3 L2691.54,1712.3 L2695.47,1712.4 L2699.41,1712.4 L2703.35,1712.5 L2707.30,1712.5 L2711.25,1712.6 L2715.22,1712.6 L2719.19,1712.7 L2723.17,1712.7 L2727.15,1712.8 L2731.14,1712.8 L2735.14,1712.9 L2739.15,1712.9 L2743.16,1712.9 L2747.18,1713.0 L2751.20,1713.0 L2755.24,1713.1 L2759.28,1713.1 L2763.33,1713.2 L2767.38,1713.2 L2771.44,1713.3 L2775.51,1713.3 L2779.59,1713.4 L2783.67,1713.4 L2787.76,1713.5 L2791.86,1713.5 L2795.96,1713.6 L2800.07,1713.6 L2804.19,1713.6 L2808.32,1713.7 L2812.45,1713.7 L2816.59,1713.8 L2820.74,1713.8 L2824.89,1713.9 L2829.05,1713.9 L2833.22,1714.0 L2837.40,1714.0 L2841.58,1714.1 L2845.77,1714.1 L2849.97,1714.2 L2854.18,1714.2 L2858.39,1714.2 L2862.61,1714.3 L2866.84,1714.3 L2871.07,1714.4 L2875.32,1714.4 L2879.57,1714.5 L2883.82,1714.5 L2888.09,1714.6 L2892.36,1714.6 L2896.64,1714.7 L2900.93,1714.7 L2905.22,1714.8 L2909.52,1714.8 L2913.83,1714.8 L2918.15,1714.9 L2922.47,1714.9 L2926.81,1715.0 L2931.15,1715.0 L2935.49,1715.1 L2939.85,1715.1 L2944.21,1715.2 L2948.58,1715.2 L2952.96,1715.3 L2957.34,1715.3 L2961.74,1715.4 L2966.14,1715.4 L2970.55,1715.4 L2974.96,1715.5 L2979.39,1715.5 L2983.82,1715.6 L2988.26,1715.6 L2992.70,1715.7 L2997.16,1715.7 L3001.62,1715.8 L3006.09,1715.8 L3010.57,1715.9 L3015.05,1715.9 L3019.55,1716.0 L3024.05,1716.0 L3028.56,1716.0 L3033.07,1716.1 L3037.60,1716.1 L3042.13,1716.2 L3046.67,1716.2 L3051.22,1716.3 L3055.78,1716.3 L3060.34,1716.4 L3064.92,1716.4 L3069.50,1716.5 L3074.09,1716.5 L3078.68,1716.6 L3083.29,1716.6 L3087.90,1716.6 L3092.52,1716.7 L3097.15,1716.7 L3101.79,1716.8 L3106.43,1716.8 L3111.08,1716.9 L3115.74,1716.9 L3120.41,1717.0 L3125.09,1717.0 L3129.78,1717.1 L3134.47,1717.1 L3139.17,1717.2 L3143.88,1717.2 L3148.60,1717.2 L3153.33,1717.3 L3158.06,1717.3 L3162.80,1717.4 L3167.56,1717.4 L3172.32,1717.5 L3177.08,1717.5 L3181.86,1717.6 L3186.64,1717.6 L3191.44,1717.7 L3196.24,1717.7 L3201.05,1717.8 L3205.87,1717.8 L3210.69,1717.8 L3215.53,1717.9 L3220.37,1717.9 L3225.22,1718.0 L3230.08,1718.0 L3234.95,1718.1 L3239.83,1718.1 L3244.71,1718.2 L3249.61,1718.2 L3254.51,1718.3 L3259.42,1718.3 L3264.34,1718.4 L3269.27,1718.4 L3274.21,1718.5 L3279.15,1718.5 L3284.11,1718.5 L3289.07,1718.6 L3294.04,1718.6 L3299.02,1718.7 L3304.01,1718.7 L3309.01,1718.8 L3314.01,1718.8 L3319.03,1718.9 L3324.05,1718.9 L3329.09,1719.0 L3334.13,1719.0 L3339.18,1719.1 L3344.24,1719.1 L3349.30,1719.1" stroke="#a6a7a9" stroke-width="5.8"/>
<path d="M462.19,1439.4 L462.81,1443.4 L463.45,1447.3 L464.13,1451.3 L464.83,1455.3 L465.55,1459.2 L466.31,1463.2 L467.10,1467.1 L467.93,1471.0 L468.78,1474.9 L469.69,1478.8 L470.62,1482.7 L471.59,1486.5 L472.61,1490.4 L473.66,1494.2 L474.78,1498.0 L475.93,1501.8 L477.12,1505.5 L478.38,1509.3 L479.68,1512.9 L481.02,1516.5 L482.45,1520.2 L483.92,1523.8 L485.45,1527.3 L487.02,1530.7 L488.69,1534.2 L490.42,1537.6 L492.21,1540.9 L494.07,1544.2 L495.98,1547.4 L497.96,1550.5 L500.01,1553.6 L502.14,1556.6 L504.28,1559.5 L506.49,1562.4 L508.78,1565.2 L511.08,1567.8 L513.46,1570.5 L515.92,1573.0 L518.39,1575.5 L520.93,1577.9 L523.49,1580.2 L526.13,1582.5 L528.78,1584.6 L531.42,1586.7 L534.14,1588.7 L536.86,1590.7 L539.66,1592.6 L542.45,1594.4 L545.22,1596.1 L548.07,1597.8 L550.90,1599.5 L553.81,1601.1 L556.69,1602.6 L559.64,1604.1 L562.55,1605.5 L565.54,1606.9 L568.49,1608.3 L571.51,1609.6 L574.49,1610.9 L577.53,1612.1 L580.52,1613.3 L583.57,1614.4 L586.56,1615.5 L589.61,1616.6 L592.60,1617.7 L595.65,1618.7 L598.75,1619.7 L601.78,1620.6 L604.86,1621.6 L608.01,1622.5 L611.06,1623.4 L614.17,1624.2 L617.19,1625.0 L620.26,1625.9 L623.38,1626.7 L626.55,1627.4 L629.62,1628.2 L632.73,1628.9 L635.90,1629.6 L638.95,1630.3 L642.04,1631.0 L645.18,1631.7 L648.38,1632.3 L651.44,1633.0 L654.54,1633.6 L657.69,1634.2 L660.88,1634.8 L663.93,1635.3 L667.03,1635.9 L670.16,1636.5 L673.34,1637.0 L676.56,1637.6 L679.62,1638.1 L682.72,1638.6 L685.86,1639.1 L689.04,1639.5 L692.26,1640.0 L695.52,1640.5 L698.60,1641.0 L701.72,1641.4 L704.88,1641.9 L708.07,1642.3 L711.30,1642.7 L714.58,1643.2 L717.65,1643.6 L720.76,1643.9 L723.90,1644.3 L727.08,1644.7 L730.29,1645.1 L733.54,1645.5 L736.82,1645.9 L740.14,1646.2 L743.24,1646.6 L746.37,1646.9 L749.54,1647.3 L752.73,1647.6 L755.96,1648.0 L759.22,1648.3 L762.52,1648.6 L765.84,1648.9 L768.93,1649.2 L772.04,1649.5 L775.18,1649.8 L778.34,1650.1 L781.54,1650.4 L784.77,1650.7 L788.03,1651.0 L791.32,1651.3 L794.65,1651.6 L798.00,1651.9 L801.07,1652.1 L804.18,1652.4 L807.30,1652.6 L810.46,1652.9 L813.64,1653.1 L816.85,1653.4 L820.09,1653.6 L823.35,1653.9 L826.64,1654.1 L829.97,1654.3 L833.31,1654.6 L836.69,1654.8 L840.10,1655.1 L843.19,1655.3 L846.30,1655.5 L849.44,1655.7 L852.61,1655.9 L855.79,1656.1 L859.01,1656.3 L862.24,1656.5 L865.50,1656.7 L868.79,1656.9 L872.10,1657.1 L875.44,1657.3 L878.80,1657.5 L882.19,1657.7 L885.61,1657.9 L889.05,1658.1 L892.13,1658.3 L895.23,1658.5 L898.36,1658.6 L901.50,1658.8 L904.67,1659.0 L907.86,1659.2 L911.07,1659.3 L914.30,1659.5 L917.55,1659.7 L920.83,1659.8 L924.13,1660.0 L927.45,1660.2 L930.80,1660.3 L934.16,1660.5 L937.55,1660.6 L940.97,1660.8 L944.40,1661.0 L947.86,1661.1 L951.35,1661.3 L954.86,1661.4 L957.94,1661.6 L961.05,1661.7 L964.18,1661.9 L967.32,1662.0 L970.49,1662.1 L973.67,1662.3 L976.87,1662.4 L980.09,1662.5 L983.33,1662.7 L986.59,1662.8 L989.87,1662.9 L993.17,1663.0 L996.49,1663.2 L999.83,1663.3 L1003.18,1663.4 L1006.56,1663.6 L1009.96,1663.7 L1013.38,1663.8 L1016.82,1663.9 L1020.28,1664.1 L1023.76,1664.2 L1027.26,1664.3 L1030.78,1664.4 L1034.33,1664.6 L1037.89,1664.7 L1041.48,1664.8 L1044.57,1664.9 L1047.68,1665.0 L1050.80,1665.1 L1053.94,1665.2 L1057.09,1665.3 L1060.26,1665.4 L1063.45,1665.5 L1066.66,1665.6 L1069.88,1665.7 L1073.11,1665.8 L1076.36,1665.9 L1079.63,1666.0 L1082.92,1666.1 L1086.22,1666.2 L1089.55,1666.3 L1092.88,1666.4 L1096.24,1666.5 L1099.61,1666.6 L1103.00,1666.7 L1106.40,1666.8 L1109.83,1666.9 L1113.27,1667.0 L1116.73,1667.1 L1120.21,1667.2 L1123.70,1667.3 L1127.21,1667.4 L1130.74,1667.5 L1134.29,1667.6 L1137.86,1667.7 L1141.45,1667.8 L1145.05,1667.9 L1148.67,1668.0 L1152.31,1668.0 L1155.97,1668.1 L1159.65,1668.2 L1162.73,1668.3 L1165.82,1668.4 L1168.93,1668.5 L1172.05,1668.5 L1175.18,1668.6 L1178.33,1668.7 L1181.48,1668.8 L1184.66,1668.8 L1187.84,1668.9 L1191.04,1669.0 L1194.26,1669.0 L1197.48,1669.1 L1200.73,1669.2 L1203.98,1669.3 L1207.25,1669.3 L1210.53,1669.4 L1213.83,1669.5 L1217.14,1669.5 L1220.47,1669.6 L1223.81,1669.7 L1227.16,1669.8 L1230.53,1669.8 L1233.91,1669.9 L1237.31,1670.0 L1240.72,1670.0 L1244.14,1670.1 L1247.58,1670.2 L1251.04,1670.2 L1254.51,1670.3 L1257.99,1670.4 L1261.49,1670.4 L1265.01,1670.5 L1268.54,1670.6 L1272.08,1670.6 L1275.64,1670.7 L1279.22,1670.8 L1282.81,1670.8 L1286.41,1670.9 L1290.04,1671.0 L1293.67,1671.0 L1297.32,1671.1 L1300.99,1671.2 L1304.67,1671.2 L1308.37,1671.3 L1312.09,1671.4 L1315.82,1671.4 L1319.57,1671.5 L1323.33,1671.6 L1327.11,1671.6 L1330.90,1671.7 L1334.71,1671.7 L1338.54,1671.8 L1342.39,1671.9 L1345.47,1671.9 L1348.57,1672.0 L1351.68,1672.0 L1354.80,1672.1 L1357.93,1672.1 L1361.07,1672.2 L1364.22,1672.2 L1367.38,1672.3 L1370.55,1672.3 L1373.73,1672.4 L1376.93,1672.4 L1380.13,1672.5 L1383.35,1672.5 L1386.58,1672.5 L1389.81,1672.6 L1393.06,1672.6 L1396.32,1672.7 L1399.59,1672.7 L1402.88,1672.8 L1406.17,1672.8 L1409.47,1672.9 L1412.79,1672.9 L1416.12,1673.0 L1419.46,1673.0 L1422.81,1673.1 L1426.17,1673.1 L1429.54,1673.2 L1432.93,1673.2 L1436.32,1673.2 L1439.73,1673.3 L1443.15,1673.3 L1446.58,1673.4 L1450.02,1673.4 L1453.48,1673.5 L1456.94,1673.5 L1460.42,1673.6 L1463.91,1673.6 L1467.42,1673.6 L1470.93,1673.7 L1474.46,1673.7 L1477.99,1673.8 L1481.54,1673.8 L1485.11,1673.9 L1488.68,1673.9 L1492.27,1673.9 L1495.87,1674.0 L1499.48,1674.0 L1503.10,1674.1 L1506.74,1674.1 L1510.39,1674.2 L1514.05,1674.2 L1517.72,1674.2 L1521.41,1674.3 L1525.10,1674.3 L1528.82,1674.4 L1532.54,1674.4 L1536.28,1674.5 L1540.02,1674.5 L1543.79,1674.5 L1547.56,1674.6 L1551.35,1674.6 L1555.15,1674.7 L1558.96,1674.7 L1562.79,1674.7 L1566.63,1674.8 L1570.48,1674.8 L1574.35,1674.9 L1578.23,1674.9 L1582.12,1674.9 L1586.03,1675.0 L1589.95,1675.0 L1593.88,1675.1 L1597.83,1675.1 L1601.79,1675.1 L1605.76,1675.2 L1609.75,1675.2 L1613.75,1675.3 L1617.76,1675.3 L1621.79,1675.3 L1625.83,1675.4 L1629.88,1675.4 L1633.95,1675.4 L1638.04,1675.5 L1642.13,1675.5 L1645.22,1675.5 L1648.31,1675.6 L1651.40,1675.6 L1654.51,1675.6 L1657.62,1675.7 L1660.74,1675.7 L1663.87,1675.7 L1667.01,1675.7 L1670.16,1675.8 L1673.31,1675.8 L1676.47,1675.8 L1679.64,1675.9 L1682.82,1675.9 L1686.01,1675.9 L1689.20,1675.9 L1692.40,1676.0 L1695.61,1676.0 L1698.83,1676.0 L1702.06,1676.0 L1705.29,1676.1 L1708.54,1676.1 L1711.79,1676.1 L1715.05,1676.1 L1718.32,1676.2 L1721.60,1676.2 L1724.88,1676.2 L1728.18,1676.3 L1731.48,1676.3 L1734.79,1676.3 L1738.11,1676.3 L1741.44,1676.4 L1744.77,1676.4 L1748.12,1676.4 L1751.47,1676.4 L1754.83,1676.5 L1758.20,1676.5 L1761.58,1676.5 L1764.97,1676.5 L1768.37,1676.6 L1771.77,1676.6 L1775.19,1676.6 L1778.61,1676.6 L1782.04,1676.7 L1785.48,1676.7 L1788.93,1676.7 L1792.39,1676.7 L1795.85,1676.8 L1799.33,1676.8 L1802.81,1676.8 L1806.31,1676.8 L1809.81,1676.9 L1813.32,1676.9 L1816.84,1676.9 L1820.37,1676.9 L1823.91,1677.0 L1827.46,1677.0 L1831.01,1677.0 L1834.58,1677.0 L1838.15,1677.1 L1841.74,1677.1 L1845.33,1677.1 L1848.93,1677.1 L1852.54,1677.1 L1856.17,1677.2 L1859.80,1677.2 L1863.43,1677.2 L1867.08,1677.2 L1870.74,1677.3 L1874.41,1677.3 L1878.09,1677.3 L1881.77,1677.3 L1885.47,1677.4 L1889.17,1677.4 L1892.89,1677.4 L1896.61,1677.4 L1900.35,1677.4 L1904.09,1677.5 L1907.84,1677.5 L1911.60,1677.5 L1915.38,1677.5 L1919.16,1677.6 L1922.95,1677.6 L1926.75,1677.6 L1930.56,1677.6 L1934.38,1677.7 L1938.21,1677.7 L1942.05,1677.7 L1945.90,1677.7 L1949.76,1677.7 L1953.63,1677.8 L1957.51,1677.8 L1961.40,1677.8 L1965.30,1677.8 L1969.21,1677.8 L1973.13,1677.9 L1977.06,1677.9 L1981.00,1677.9 L1984.95,1677.9 L1988.91,1678.0 L1992.88,1678.0 L1996.86,1678.0 L2000.85,1678.0 L2004.85,1678.0 L2008.86,1678.1 L2012.88,1678.1 L2016.92,1678.1 L2020.96,1678.1 L2025.01,1678.1 L2029.07,1678.2 L2033.14,1678.2 L2037.23,1678.2 L2041.32,1678.2 L2045.43,1678.2 L2049.54,1678.3 L2053.67,1678.3 L2057.80,1678.3 L2061.95,1678.3 L2066.11,1678.3 L2070.27,1678.4 L2074.45,1678.4 L2078.64,1678.4 L2082.84,1678.4 L2087.05,1678.4 L2091.27,1678.5 L2095.51,1678.5 L2099.75,1678.5 L2104.00,1678.5 L2108.27,1678.5 L2112.54,1678.6 L2116.83,1678.6 L2121.13,1678.6 L2125.44,1678.6 L2129.76,1678.6 L2134.09,1678.7 L2138.43,1678.7 L2142.78,1678.7 L2147.15,1678.7 L2151.52,1678.7 L2155.91,1678.8 L2160.31,1678.8 L2164.72,1678.8 L2169.14,1678.8 L2173.57,1678.8 L2178.01,1678.8 L2182.47,1678.9 L2186.93,1678.9 L2191.41,1678.9 L2195.90,1678.9 L2200.40,1678.9 L2204.91,1679.0 L2209.43,1679.0 L2213.97,1679.0 L2218.51,1679.0 L2223.07,1679.0 L2227.64,1679.0 L2232.22,1679.1 L2236.82,1679.1 L2241.42,1679.1 L2246.04,1679.1 L2249.12,1679.1 L2252.21,1679.1 L2255.31,1679.1 L2258.41,1679.2 L2261.51,1679.2 L2264.62,1679.2 L2267.74,1679.2 L2270.86,1679.2 L2273.99,1679.2 L2277.12,1679.2 L2280.26,1679.2 L2283.40,1679.2 L2286.55,1679.3 L2289.70,1679.3 L2292.86,1679.3 L2296.03,1679.3 L2299.20,1679.3 L2302.37,1679.3 L2305.55,1679.3 L2308.74,1679.3 L2311.93,1679.4 L2315.13,1679.4 L2318.33,1679.4 L2321.54,1679.4 L2324.75,1679.4 L2327.97,1679.4 L2331.19,1679.4 L2334.42,1679.4 L2337.66,1679.4 L2340.90,1679.4 L2344.15,1679.5 L2347.40,1679.5 L2350.65,1679.5 L2353.92,1679.5 L2357.19,1679.5 L2360.46,1679.5 L2363.74,1679.5 L2367.03,1679.5 L2370.32,1679.5 L2373.61,1679.6 L2376.92,1679.6 L2380.22,1679.6 L2383.54,1679.6 L2386.86,1679.6 L2390.18,1679.6 L2393.51,1679.6 L2396.85,1679.6 L2400.19,1679.6 L2403.54,1679.6 L2406.89,1679.7 L2410.25,1679.7 L2413.61,1679.7 L2416.98,1679.7 L2420.36,1679.7 L2423.74,1679.7 L2427.13,1679.7 L2430.52,1679.7 L2433.92,1679.7 L2437.33,1679.8 L2440.74,1679.8 L2444.16,1679.8 L2447.58,1679.8 L2451.01,1679.8 L2454.44,1679.8 L2457.88,1679.8 L2461.33,1679.8 L2464.78,1679.8 L2468.24,1679.8 L2471.70,1679.8 L2475.17,1679.9 L2478.65,1679.9 L2482.13,1679.9 L2485.61,1679.9 L2489.11,1679.9 L2492.61,1679.9 L2496.11,1679.9 L2499.62,1679.9 L2503.14,1679.9 L2506.66,1679.9 L2510.19,1680.0 L2513.73,1680.0 L2517.27,1680.0 L2520.82,1680.0 L2524.37,1680.0 L2527.93,1680.0 L2531.50,1680.0 L2535.07,1680.0 L2538.65,1680.0 L2542.23,1680.0 L2545.82,1680.0 L2549.42,1680.1 L2553.02,1680.1 L2556.63,1680.1 L2560.24,1680.1 L2563.86,1680.1 L2567.49,1680.1 L2571.12,1680.1 L2574.76,1680.1 L2578.41,1680.1 L2582.06,1680.1 L2585.72,1680.1 L2589.38,1680.2 L2593.05,1680.2 L2596.73,1680.2 L2600.41,1680.2 L2604.10,1680.2 L2607.80,1680.2 L2611.50,1680.2 L2615.21,1680.2 L2618.92,1680.2 L2622.64,1680.2 L2626.37,1680.2 L2630.10,1680.3 L2633.84,1680.3 L2637.59,1680.3 L2641.34,1680.3 L2645.10,1680.3 L2648.87,1680.3 L2652.64,1680.3 L2656.42,1680.3 L2660.20,1680.3 L2663.99,1680.3 L2667.79,1680.3 L2671.59,1680.3 L2675.40,1680.4 L2679.22,1680.4 L2683.05,1680.4 L2686.88,1680.4 L2690.71,1680.4 L2694.56,1680.4 L2698.41,1680.4 L2702.26,1680.4 L2706.13,1680.4 L2710.00,1680.4 L2713.87,1680.4 L2717.76,1680.4 L2721.64,1680.5 L2725.54,1680.5 L2729.44,1680.5 L2733.35,1680.5 L2737.27,1680.5 L2741.19,1680.5 L2745.12,1680.5 L2749.06,1680.5 L2753.00,1680.5 L2756.95,1680.5 L2760.91,1680.5 L2764.87,1680.5 L2768.84,1680.6 L2772.82,1680.6 L2776.80,1680.6 L2780.79,1680.6 L2784.79,1680.6 L2788.79,1680.6 L2792.80,1680.6 L2796.82,1680.6 L2800.85,1680.6 L2804.88,1680.6 L2808.92,1680.6 L2812.96,1680.6 L2817.01,1680.6 L2821.07,1680.7 L2825.14,1680.7 L2829.21,1680.7 L2833.29,1680.7 L2837.38,1680.7 L2841.47,1680.7 L2845.57,1680.7 L2849.68,1680.7 L2853.79,1680.7 L2857.92,1680.7 L2862.04,1680.7 L2866.18,1680.7 L2870.32,1680.7 L2874.47,1680.7 L2878.63,1680.8 L2882.79,1680.8 L2886.97,1680.8 L2891.14,1680.8 L2895.33,1680.8 L2899.52,1680.8 L2903.72,1680.8 L2907.93,1680.8 L2912.14,1680.8 L2916.36,1680.8 L2920.59,1680.8 L2924.83,1680.8 L2929.07,1680.8 L2933.32,1680.8 L2937.58,1680.9 L2941.84,1680.9 L2946.12,1680.9 L2950.40,1680.9 L2954.68,1680.9 L2958.98,1680.9 L2963.28,1680.9 L2967.59,1680.9 L2971.90,1680.9 L2976.22,1680.9 L2980.56,1680.9 L2984.89,1680.9 L2989.24,1680.9 L2993.59,1680.9 L2997.95,1680.9 L3002.32,1681.0 L3006.70,1681.0 L3011.08,1681.0 L3015.47,1681.0 L3019.87,1681.0 L3024.27,1681.0 L3028.68,1681.0 L3033.10,1681.0 L3037.53,1681.0 L3041.97,1681.0 L3046.41,1681.0 L3050.86,1681.0 L3055.32,1681.0 L3059.78,1681.0 L3064.26,1681.0 L3068.74,1681.0 L3073.23,1681.1 L3077.72,1681.1 L3082.23,1681.1 L3086.74,1681.1 L3091.26,1681.1 L3095.79,1681.1 L3100.32,1681.1 L3104.86,1681.1 L3109.41,1681.1 L3113.97,1681.1 L3118.54,1681.1 L3123.11,1681.1 L3127.69,1681.1 L3132.28,1681.1 L3136.88,1681.1 L3141.48,1681.1 L3146.10,1681.1 L3150.72,1681.2 L3155.35,1681.2 L3159.98,1681.2 L3164.63,1681.2 L3169.28,1681.2 L3173.94,1681.2 L3178.61,1681.2 L3183.28,1681.2 L3187.97,1681.2 L3192.66,1681.2 L3197.36,1681.2 L3202.07,1681.2" stroke="#a3a4a6" stroke-width="5.8"/>
<path d="M464.26,1149.7 L464.57,1153.8 L464.88,1157.9 L465.19,1162.0 L465.51,1166.1 L465.83,1170.1 L466.18,1174.3 L466.53,1178.5 L466.89,1182.7 L467.25,1186.8 L467.62,1190.9 L467.99,1195.0 L468.37,1199.0 L468.75,1203.0 L469.16,1207.2 L469.58,1211.3 L470.01,1215.4 L470.44,1219.5 L470.87,1223.5 L471.31,1227.5 L471.79,1231.7 L472.27,1235.9 L472.76,1240.0 L473.26,1244.0 L473.77,1248.0 L474.28,1252.0 L474.83,1256.2 L475.39,1260.3 L475.96,1264.3 L476.53,1268.4 L477.12,1272.3 L477.71,1276.3 L478.35,1280.4 L479.00,1284.4 L479.66,1288.4 L480.33,1292.4 L481.01,1296.3 L481.74,1300.3 L482.48,1304.4 L483.23,1308.3 L484.00,1312.2 L484.82,1316.3 L485.65,1320.3 L486.50,1324.3 L487.37,1328.2 L488.25,1332.0 L489.19,1336.0 L490.15,1339.9 L491.12,1343.8 L492.12,1347.6 L493.18,1351.6 L494.26,1355.5 L495.36,1359.3 L496.48,1363.1 L497.63,1366.8 L498.85,1370.6 L500.10,1374.4 L501.37,1378.1 L502.67,1381.8 L503.99,1385.4 L505.40,1389.2 L506.84,1392.8 L508.32,1396.4 L509.82,1400.0 L511.36,1403.5 L512.93,1406.9 L514.59,1410.5 L516.30,1414.0 L518.04,1417.4 L519.83,1420.8 L521.65,1424.1 L523.52,1427.4 L525.42,1430.6 L527.37,1433.8 L529.37,1436.9 L531.41,1440.0 L533.49,1443.0 L535.62,1446.0 L537.80,1449.0 L540.03,1451.9 L542.31,1454.8 L544.64,1457.6 L546.93,1460.3 L549.27,1462.9 L551.66,1465.5 L554.10,1468.1 L556.59,1470.6 L559.14,1473.1 L561.64,1475.5 L564.19,1477.8 L566.80,1480.1 L569.45,1482.4 L572.05,1484.6 L574.70,1486.7 L577.41,1488.8 L580.16,1490.9 L582.85,1492.8 L585.59,1494.8 L588.38,1496.7 L591.23,1498.6 L593.99,1500.4 L596.81,1502.1 L599.67,1503.9 L602.59,1505.6 L605.42,1507.2 L608.30,1508.9 L611.23,1510.5 L614.21,1512.0 L617.09,1513.5 L620.01,1515.0 L622.98,1516.5 L626.00,1517.9 L628.91,1519.3 L631.87,1520.6 L634.86,1521.9 L637.91,1523.3 L641.00,1524.6 L643.97,1525.8 L646.98,1527.0 L650.03,1528.2 L653.13,1529.4 L656.08,1530.5 L659.08,1531.6 L662.12,1532.7 L665.20,1533.8 L668.33,1534.9 L671.49,1536.0 L674.50,1537.0 L677.55,1538.0 L680.64,1539.0 L683.76,1539.9 L686.93,1540.9 L690.14,1541.9 L693.17,1542.8 L696.24,1543.7 L699.34,1544.6 L702.49,1545.4 L705.67,1546.3 L708.88,1547.2 L711.91,1548.0 L714.97,1548.8 L718.06,1549.6 L721.18,1550.3 L724.35,1551.1 L727.54,1551.9 L730.78,1552.7 L734.04,1553.4 L737.09,1554.2 L740.18,1554.9 L743.29,1555.6 L746.43,1556.2 L749.61,1556.9 L752.82,1557.6 L756.07,1558.3 L759.34,1559.0 L762.66,1559.7 L765.72,1560.3 L768.82,1560.9 L771.94,1561.5 L775.09,1562.1 L778.28,1562.7 L781.49,1563.3 L784.73,1563.9 L788.01,1564.5 L791.31,1565.1 L794.65,1565.7 L797.71,1566.2 L800.80,1566.8 L803.91,1567.3 L807.05,1567.8 L810.22,1568.4 L813.41,1568.9 L816.64,1569.4 L819.89,1569.9 L823.16,1570.4 L826.47,1571.0 L829.81,1571.5 L833.17,1572.0 L836.56,1572.5 L839.64,1572.9 L842.74,1573.4 L845.87,1573.9 L849.02,1574.3 L852.19,1574.8 L855.39,1575.2 L858.61,1575.7 L861.86,1576.1 L865.13,1576.5 L868.43,1577.0 L871.76,1577.4 L875.11,1577.9 L878.48,1578.3 L881.89,1578.7 L885.32,1579.2 L888.39,1579.6 L891.48,1579.9 L894.59,1580.3 L897.72,1580.7 L900.88,1581.1 L904.05,1581.5 L907.25,1581.8 L910.47,1582.2 L913.72,1582.6 L916.98,1583.0 L920.27,1583.3 L923.58,1583.7 L926.91,1584.1 L930.27,1584.5 L933.65,1584.8 L937.05,1585.2 L940.48,1585.6 L943.93,1585.9 L947.40,1586.3 L950.90,1586.7 L953.98,1587.0 L957.07,1587.3 L960.19,1587.6 L963.33,1587.9 L966.48,1588.2 L969.65,1588.5 L972.85,1588.9 L976.06,1589.2 L979.29,1589.5 L982.54,1589.8 L985.81,1590.1 L989.10,1590.4 L992.41,1590.7 L995.73,1591.0 L999.08,1591.3 L1002.45,1591.6 L1005.84,1591.9 L1009.25,1592.2 L1012.68,1592.5 L1016.13,1592.9 L1019.61,1593.2 L1023.10,1593.5 L1026.61,1593.8 L1030.15,1594.1 L1033.70,1594.4 L1037.28,1594.7 L1040.36,1594.9 L1043.46,1595.2 L1046.58,1595.4 L1049.71,1595.7 L1052.86,1595.9 L1056.02,1596.2 L1059.20,1596.4 L1062.40,1596.7 L1065.61,1596.9 L1068.84,1597.2 L1072.09,1597.4 L1075.35,1597.7 L1078.63,1597.9 L1081.93,1598.2 L1085.24,1598.4 L1088.57,1598.7 L1091.92,1598.9 L1095.28,1599.2 L1098.67,1599.4 L1102.07,1599.7 L1105.48,1599.9 L1108.92,1600.1 L1112.37,1600.4 L1115.84,1600.6 L1119.33,1600.9 L1122.84,1601.1 L1126.36,1601.4 L1129.90,1601.6 L1133.46,1601.8 L1137.04,1602.1 L1140.64,1602.3 L1144.26,1602.6 L1147.89,1602.8 L1151.54,1603.0 L1155.22,1603.3 L1158.29,1603.5 L1161.38,1603.7 L1164.48,1603.9 L1167.59,1604.1 L1170.72,1604.3 L1173.86,1604.5 L1177.02,1604.7 L1180.19,1604.9 L1183.37,1605.1 L1186.56,1605.2 L1189.77,1605.4 L1193.00,1605.6 L1196.23,1605.8 L1199.48,1606.0 L1202.75,1606.2 L1206.03,1606.4 L1209.32,1606.6 L1212.63,1606.8 L1215.95,1607.0 L1219.28,1607.2 L1222.63,1607.4 L1226.00,1607.6 L1229.38,1607.8 L1232.77,1608.0 L1236.18,1608.1 L1239.60,1608.3 L1243.03,1608.5 L1246.49,1608.7 L1249.95,1608.9 L1253.43,1609.1 L1256.93,1609.3 L1260.44,1609.5 L1263.97,1609.7 L1267.51,1609.8 L1271.07,1610.0 L1274.64,1610.2 L1278.22,1610.4 L1281.83,1610.6 L1285.45,1610.8 L1289.08,1611.0 L1292.73,1611.2 L1296.39,1611.3 L1300.07,1611.5 L1303.77,1611.7 L1307.48,1611.9 L1311.21,1612.1 L1314.96,1612.3 L1318.72,1612.5 L1322.49,1612.6 L1326.28,1612.8 L1330.09,1613.0 L1333.92,1613.2 L1337.76,1613.4 L1340.85,1613.5 L1343.94,1613.7 L1347.05,1613.8 L1350.16,1614.0 L1353.29,1614.1 L1356.43,1614.3 L1359.58,1614.4 L1362.74,1614.5 L1365.91,1614.7 L1369.09,1614.8 L1372.29,1615.0 L1375.49,1615.1 L1378.70,1615.3 L1381.93,1615.4 L1385.17,1615.6 L1388.42,1615.7 L1391.67,1615.8 L1394.94,1616.0 L1398.23,1616.1 L1401.52,1616.3 L1404.82,1616.4 L1408.14,1616.6 L1411.46,1616.7 L1414.80,1616.8 L1418.15,1617.0 L1421.51,1617.1 L1424.89,1617.3 L1428.27,1617.4 L1431.67,1617.6 L1435.07,1617.7 L1438.49,1617.8 L1441.92,1618.0 L1445.37,1618.1 L1448.82,1618.3 L1452.29,1618.4 L1455.77,1618.5 L1459.26,1618.7 L1462.76,1618.8 L1466.27,1619.0 L1469.80,1619.1 L1473.34,1619.2 L1476.89,1619.4 L1480.45,1619.5 L1484.03,1619.7 L1487.61,1619.8 L1491.21,1619.9 L1494.82,1620.1 L1498.45,1620.2 L1502.09,1620.4 L1505.73,1620.5 L1509.40,1620.6 L1513.07,1620.8 L1516.76,1620.9 L1520.46,1621.1 L1524.17,1621.2 L1527.89,1621.3 L1531.63,1621.5 L1535.38,1621.6 L1539.15,1621.7 L1542.92,1621.9 L1546.71,1622.0 L1550.51,1622.2 L1554.33,1622.3 L1558.16,1622.4 L1562.00,1622.6 L1565.85,1622.7 L1569.72,1622.8 L1573.60,1623.0 L1577.50,1623.1 L1581.41,1623.2 L1585.33,1623.4 L1589.26,1623.5 L1593.21,1623.6 L1597.17,1623.8 L1601.15,1623.9 L1605.14,1624.1 L1609.14,1624.2 L1613.16,1624.3 L1617.19,1624.5 L1621.23,1624.6 L1625.29,1624.7 L1629.36,1624.9 L1633.45,1625.0 L1637.55,1625.1 L1640.63,1625.2 L1643.72,1625.3 L1646.83,1625.4 L1649.93,1625.5 L1653.05,1625.6 L1656.17,1625.7 L1659.31,1625.8 L1662.45,1625.9 L1665.59,1626.0 L1668.75,1626.1 L1671.92,1626.2 L1675.09,1626.3 L1678.27,1626.4 L1681.46,1626.5 L1684.66,1626.6 L1687.86,1626.7 L1691.07,1626.8 L1694.30,1626.9 L1697.53,1627.0 L1700.77,1627.1 L1704.01,1627.2 L1707.27,1627.3 L1710.53,1627.4 L1713.80,1627.5 L1717.08,1627.6 L1720.37,1627.7 L1723.67,1627.8 L1726.98,1627.9 L1730.29,1628.0 L1733.61,1628.1 L1736.94,1628.2 L1740.28,1628.3 L1743.63,1628.4 L1746.99,1628.5 L1750.36,1628.6 L1753.73,1628.7 L1757.11,1628.8 L1760.51,1628.9 L1763.91,1629.0 L1767.32,1629.1 L1770.73,1629.2 L1774.16,1629.3 L1777.60,1629.4 L1781.04,1629.5 L1784.50,1629.6 L1787.96,1629.7 L1791.43,1629.8 L1794.91,1629.9 L1798.40,1630.0 L1801.90,1630.1 L1805.40,1630.2 L1808.92,1630.3 L1812.44,1630.3 L1815.98,1630.4 L1819.52,1630.5 L1823.07,1630.6 L1826.64,1630.7 L1830.21,1630.8 L1833.79,1630.9 L1837.38,1631.0 L1840.98,1631.1 L1844.58,1631.2 L1848.20,1631.3 L1851.83,1631.4 L1855.46,1631.5 L1859.11,1631.6 L1862.76,1631.7 L1866.42,1631.8 L1870.10,1631.9 L1873.78,1632.0 L1877.47,1632.1 L1881.17,1632.2 L1884.89,1632.3 L1888.61,1632.4 L1892.34,1632.5 L1896.08,1632.6 L1899.83,1632.6 L1903.58,1632.7 L1907.35,1632.8 L1911.13,1632.9 L1914.92,1633.0 L1918.72,1633.1 L1922.53,1633.2 L1926.34,1633.3 L1930.17,1633.4 L1934.01,1633.5 L1937.85,1633.6 L1941.71,1633.7 L1945.58,1633.8 L1949.46,1633.9 L1953.34,1634.0 L1957.24,1634.1 L1961.15,1634.2 L1965.06,1634.3 L1968.99,1634.4 L1972.93,1634.4 L1976.87,1634.5 L1980.83,1634.6 L1984.80,1634.7 L1988.78,1634.8 L1992.76,1634.9 L1996.76,1635.0 L2000.77,1635.1 L2004.79,1635.2 L2008.82,1635.3 L2012.86,1635.4 L2016.91,1635.5 L2020.97,1635.6 L2025.04,1635.7 L2029.12,1635.8 L2033.21,1635.8 L2037.32,1635.9 L2041.43,1636.0 L2045.55,1636.1 L2049.69,1636.2 L2053.83,1636.3 L2057.99,1636.4 L2062.15,1636.5 L2066.33,1636.6 L2070.52,1636.7 L2074.72,1636.8 L2078.92,1636.9 L2083.14,1637.0 L2087.37,1637.1 L2091.62,1637.1 L2095.87,1637.2 L2100.13,1637.3 L2104.41,1637.4 L2108.69,1637.5 L2112.99,1637.6 L2117.30,1637.7 L2121.62,1637.8 L2125.95,1637.9 L2130.29,1638.0 L2134.64,1638.1 L2139.00,1638.2 L2143.38,1638.2 L2147.76,1638.3 L2152.16,1638.4 L2156.57,1638.5 L2160.99,1638.6 L2165.42,1638.7 L2169.86,1638.8 L2174.31,1638.9 L2178.78,1639.0 L2183.26,1639.1 L2187.75,1639.2 L2192.25,1639.2 L2196.76,1639.3 L2201.28,1639.4 L2205.81,1639.5 L2210.36,1639.6 L2214.92,1639.7 L2219.49,1639.8 L2224.07,1639.9 L2228.66,1640.0 L2233.27,1640.1 L2236.35,1640.1 L2239.43,1640.2 L2242.52,1640.2 L2245.61,1640.3 L2248.71,1640.4 L2251.81,1640.4 L2254.92,1640.5 L2258.03,1640.5 L2261.15,1640.6 L2264.28,1640.7 L2267.40,1640.7 L2270.54,1640.8 L2273.68,1640.8 L2276.83,1640.9 L2279.98,1641.0 L2283.14,1641.0 L2286.30,1641.1 L2289.47,1641.1 L2292.64,1641.2 L2295.82,1641.3 L2299.00,1641.3 L2302.19,1641.4 L2305.38,1641.4 L2308.59,1641.5 L2311.79,1641.6 L2315.00,1641.6 L2318.22,1641.7 L2321.44,1641.7 L2324.67,1641.8 L2327.90,1641.9 L2331.14,1641.9 L2334.39,1642.0 L2337.64,1642.0 L2340.89,1642.1 L2344.15,1642.2 L2347.42,1642.2 L2350.69,1642.3 L2353.97,1642.3 L2357.25,1642.4 L2360.54,1642.5 L2363.84,1642.5 L2367.14,1642.6 L2370.45,1642.6 L2373.76,1642.7 L2377.08,1642.8 L2380.40,1642.8 L2383.73,1642.9 L2387.06,1642.9 L2390.40,1643.0 L2393.75,1643.0 L2397.10,1643.1 L2400.46,1643.2 L2403.82,1643.2 L2407.19,1643.3 L2410.57,1643.3 L2413.95,1643.4 L2417.33,1643.5 L2420.73,1643.5 L2424.12,1643.6 L2427.53,1643.6 L2430.94,1643.7 L2434.35,1643.8 L2437.77,1643.8 L2441.20,1643.9 L2444.64,1643.9 L2448.07,1644.0 L2451.52,1644.0 L2454.97,1644.1 L2458.43,1644.2 L2461.89,1644.2 L2465.36,1644.3 L2468.83,1644.3 L2472.31,1644.4 L2475.80,1644.5 L2479.29,1644.5 L2482.79,1644.6 L2486.30,1644.6 L2489.81,1644.7 L2493.32,1644.8 L2496.85,1644.8 L2500.37,1644.9 L2503.91,1644.9 L2507.45,1645.0 L2511.00,1645.0 L2514.55,1645.1 L2518.11,1645.2 L2521.67,1645.2 L2525.25,1645.3 L2528.82,1645.3 L2532.41,1645.4 L2536.00,1645.5 L2539.59,1645.5 L2543.19,1645.6 L2546.80,1645.6 L2550.42,1645.7 L2554.04,1645.7 L2557.66,1645.8 L2561.30,1645.9 L2564.94,1645.9 L2568.58,1646.0 L2572.23,1646.0 L2575.89,1646.1 L2579.55,1646.1 L2583.23,1646.2 L2586.90,1646.3 L2590.58,1646.3 L2594.27,1646.4 L2597.97,1646.4 L2601.67,1646.5 L2605.38,1646.6 L2609.10,1646.6 L2612.82,1646.7 L2616.54,1646.7 L2620.28,1646.8 L2624.02,1646.8 L2627.76,1646.9 L2631.52,1647.0 L2635.28,1647.0 L2639.04,1647.1 L2642.82,1647.1 L2646.59,1647.2 L2650.38,1647.2 L2654.17,1647.3 L2657.97,1647.4 L2661.78,1647.4 L2665.59,1647.5 L2669.41,1647.5 L2673.23,1647.6 L2677.06,1647.6 L2680.90,1647.7 L2684.74,1647.8 L2688.59,1647.8 L2692.45,1647.9 L2696.31,1647.9 L2700.19,1648.0 L2704.06,1648.1 L2707.95,1648.1 L2711.84,1648.2 L2715.73,1648.2 L2719.64,1648.3 L2723.55,1648.3 L2727.47,1648.4 L2731.39,1648.5 L2735.32,1648.5 L2739.26,1648.6 L2743.20,1648.6 L2747.15,1648.7 L2751.11,1648.7 L2755.08,1648.8 L2759.05,1648.9 L2763.03,1648.9 L2767.01,1649.0 L2771.00,1649.0 L2775.00,1649.1 L2779.01,1649.1 L2783.02,1649.2 L2787.04,1649.2 L2791.07,1649.3 L2795.10,1649.4 L2799.14,1649.4 L2803.19,1649.5 L2807.24,1649.5 L2811.30,1649.6 L2815.37,1649.6 L2819.44,1649.7 L2823.53,1649.8 L2827.61,1649.8 L2831.71,1649.9 L2835.81,1649.9 L2839.92,1650.0 L2844.04,1650.0 L2848.16,1650.1 L2852.29,1650.2 L2856.43,1650.2 L2860.58,1650.3 L2864.73,1650.3 L2868.89,1650.4 L2873.06,1650.4 L2877.23,1650.5 L2881.41,1650.6 L2885.60,1650.6 L2889.79,1650.7 L2894.00,1650.7 L2898.21,1650.8 L2902.42,1650.8 L2906.65,1650.9 L2910.88,1650.9 L2915.12,1651.0 L2919.36,1651.1 L2923.62,1651.1 L2927.88,1651.2 L2932.14,1651.2 L2936.42,1651.3 L2940.70,1651.3 L2944.99,1651.4 L2949.29,1651.5 L2953.59,1651.5 L2957.90,1651.6 L2962.22,1651.6 L2966.55,1651.7 L2970.88,1651.7 L2975.23,1651.8 L2979.57,1651.8 L2983.93,1651.9 L2988.29,1652.0 L2992.67,1652.0 L2997.04,1652.1 L3001.43,1652.1 L3005.82,1652.2 L3010.23,1652.2 L3014.63,1652.3 L3019.05,1652.3 L3023.48,1652.4 L3027.91,1652.5 L3032.35,1652.5 L3036.79,1652.6 L3041.25,1652.6 L3045.71,1652.7 L3050.18,1652.7 L3054.66,1652.8 L3059.14,1652.9 L3063.63,1652.9 L3068.14,1653.0 L3072.64,1653.0 L3077.16,1653.1 L3081.68,1653.1 L3086.21,1653.2 L3090.75,1653.2 L3095.30,1653.3 L3099.86,1653.4 L3104.42,1653.4 L3108.99,1653.5 L3113.57,1653.5 L3118.15,1653.6 L3122.75,1653.6 L3127.35,1653.7 L3131.96,1653.7 L3136.58,1653.8 L3141.20,1653.9 L3145.83,1653.9 L3150.48,1654.0 L3155.13,1654.0 L3159.78,1654.1 L3164.45,1654.1 L3169.12,1654.2 L3173.80,1654.2 L3178.49,1654.3 L3183.19,1654.3 L3187.90,1654.4 L3192.61,1654.5 L3197.33,1654.5 L3202.06,1654.6 L3206.80,1654.6 L3211.54,1654.7 L3216.30,1654.7 L3221.06,1654.8 L3225.83,1654.8 L3230.61,1654.9 L3235.40,1655.0 L3240.19,1655.0 L3244.99,1655.1 L3249.81,1655.1 L3254.63,1655.2 L3259.45,1655.2 L3264.29,1655.3 L3269.13,1655.3 L3273.99,1655.4 L3278.85,1655.5 L3283.72,1655.5 L3288.60,1655.6 L3293.48,1655.6 L3298.38,1655.7 L3303.28,1655.7 L3308.19,1655.8 L3313.11,1655.8 L3318.04,1655.9 L3322.97,1655.9 L3327.92,1656.0 L3332.87,1656.1 L3337.84,1656.1 L3342.81,1656.2 L3347.79,1656.2 L3352.77,1656.3 L3357.77,1656.3 L3362.77,1656.4 L3367.79,1656.4 L3370.30,1656.5" stroke="#898a8c" stroke-width="5.8"/>
<path d="M465.06,1139.8 L465.31,1143.9 L465.56,1148.1 L465.81,1152.2 L466.06,1156.3 L466.32,1160.3 L466.58,1164.3 L466.87,1168.6 L467.16,1172.9 L467.45,1177.2 L467.75,1181.4 L468.05,1185.6 L468.35,1189.8 L468.65,1193.9 L468.96,1198.0 L469.27,1202.0 L469.59,1206.0 L469.93,1210.3 L470.28,1214.6 L470.63,1218.8 L470.99,1223.0 L471.35,1227.1 L471.71,1231.2 L472.08,1235.3 L472.45,1239.3 L472.83,1243.3 L473.24,1247.6 L473.65,1251.8 L474.07,1256.0 L474.50,1260.1 L474.93,1264.2 L475.36,1268.2 L475.80,1272.2 L476.25,1276.2 L476.73,1280.4 L477.22,1284.5 L477.72,1288.6 L478.22,1292.7 L478.73,1296.7 L479.25,1300.7 L479.80,1304.9 L480.37,1309.0 L480.94,1313.1 L481.52,1317.2 L482.11,1321.2 L482.71,1325.1 L483.35,1329.3 L484.01,1333.4 L484.67,1337.4 L485.34,1341.4 L486.02,1345.4 L486.71,1349.3 L487.46,1353.4 L488.21,1357.4 L488.98,1361.4 L489.76,1365.3 L490.55,1369.2 L491.40,1373.2 L492.26,1377.2 L493.14,1381.1 L494.03,1384.9 L494.98,1388.9 L495.95,1392.9 L496.94,1396.8 L497.94,1400.6 L498.97,1404.4 L500.06,1408.3 L501.17,1412.2 L502.30,1416.0 L503.45,1419.7 L504.68,1423.5 L505.93,1427.3 L507.21,1431.1 L508.51,1434.7 L509.90,1438.5 L511.31,1442.2 L512.75,1445.8 L514.22,1449.4 L515.72,1452.9 L517.32,1456.6 L518.95,1460.1 L520.61,1463.6 L522.31,1467.0 L524.05,1470.4 L525.82,1473.7 L527.62,1477.0 L529.55,1480.3 L531.51,1483.5 L533.51,1486.7 L535.56,1489.9 L537.66,1493.0 L539.80,1496.0 L541.98,1499.0 L544.22,1501.9 L546.50,1504.8 L548.83,1507.6 L551.21,1510.3 L553.64,1513.1 L556.02,1515.6 L558.46,1518.1 L560.94,1520.6 L563.48,1523.0 L566.07,1525.4 L568.71,1527.7 L571.30,1529.9 L573.93,1532.1 L576.62,1534.2 L579.36,1536.3 L582.16,1538.4 L584.89,1540.3 L587.66,1542.2 L590.49,1544.1 L593.38,1545.9 L596.19,1547.6 L599.04,1549.3 L601.95,1551.0 L604.91,1552.7 L607.78,1554.2 L610.70,1555.7 L613.67,1557.2 L616.69,1558.7 L619.61,1560.1 L622.58,1561.5 L625.59,1562.8 L628.66,1564.1 L631.61,1565.4 L634.60,1566.6 L637.64,1567.8 L640.73,1569.0 L643.69,1570.1 L646.70,1571.2 L649.75,1572.3 L652.84,1573.3 L655.98,1574.4 L658.98,1575.3 L662.02,1576.3 L665.10,1577.3 L668.22,1578.2 L671.39,1579.1 L674.39,1580.0 L677.44,1580.9 L680.53,1581.7 L683.65,1582.5 L686.82,1583.4 L690.02,1584.2 L693.06,1584.9 L696.12,1585.7 L699.23,1586.4 L702.37,1587.1 L705.55,1587.9 L708.77,1588.6 L712.02,1589.3 L715.08,1589.9 L718.18,1590.6 L721.30,1591.2 L724.47,1591.8 L727.67,1592.4 L730.90,1593.1 L734.17,1593.7 L737.22,1594.2 L740.31,1594.8 L743.42,1595.3 L746.57,1595.9 L749.75,1596.4 L752.96,1596.9 L756.21,1597.5 L759.49,1598.0 L762.80,1598.5 L765.87,1599.0 L768.96,1599.5 L772.09,1599.9 L775.25,1600.4 L778.43,1600.8 L781.65,1601.3 L784.89,1601.7 L788.17,1602.2 L791.48,1602.6 L794.81,1603.0 L797.88,1603.4 L800.97,1603.8 L804.08,1604.2 L807.22,1604.6 L810.39,1605.0 L813.59,1605.4 L816.81,1605.7 L820.07,1606.1 L823.35,1606.5 L826.65,1606.8 L829.99,1607.2 L833.36,1607.6 L836.75,1607.9 L839.83,1608.2 L842.93,1608.6 L846.06,1608.9 L849.21,1609.2 L852.39,1609.5 L855.59,1609.8 L858.82,1610.1 L862.07,1610.4 L865.34,1610.7 L868.64,1611.0 L871.97,1611.3 L875.32,1611.6 L878.70,1611.9 L882.11,1612.2 L885.54,1612.5 L888.61,1612.7 L891.70,1613.0 L894.82,1613.2 L897.95,1613.5 L901.11,1613.7 L904.29,1614.0 L907.49,1614.2 L910.71,1614.5 L913.96,1614.7 L917.22,1615.0 L920.51,1615.2 L923.83,1615.4 L927.16,1615.7 L930.52,1615.9 L933.90,1616.2 L937.31,1616.4 L940.73,1616.6 L944.19,1616.8 L947.66,1617.1 L951.16,1617.3 L954.24,1617.5 L957.34,1617.7 L960.46,1617.9 L963.60,1618.1 L966.75,1618.3 L969.93,1618.5 L973.12,1618.7 L976.34,1618.8 L979.57,1619.0 L982.82,1619.2 L986.10,1619.4 L989.39,1619.6 L992.70,1619.8 L996.03,1620.0 L999.38,1620.1 L1002.75,1620.3 L1006.14,1620.5 L1009.56,1620.7 L1012.99,1620.9 L1016.44,1621.0 L1019.92,1621.2 L1023.41,1621.4 L1026.93,1621.6 L1030.47,1621.7 L1034.02,1621.9 L1037.60,1622.1 L1040.69,1622.2 L1043.79,1622.4 L1046.91,1622.5 L1050.04,1622.7 L1053.19,1622.8 L1056.36,1622.9 L1059.54,1623.1 L1062.74,1623.2 L1065.95,1623.4 L1069.19,1623.5 L1072.43,1623.6 L1075.70,1623.8 L1078.98,1623.9 L1082.28,1624.0 L1085.60,1624.2 L1088.93,1624.3 L1092.28,1624.5 L1095.65,1624.6 L1099.03,1624.7 L1102.43,1624.9 L1105.85,1625.0 L1109.29,1625.1 L1112.75,1625.2 L1116.22,1625.4 L1119.71,1625.5 L1123.22,1625.6 L1126.75,1625.8 L1130.29,1625.9 L1133.85,1626.0 L1137.44,1626.1 L1141.04,1626.3 L1144.65,1626.4 L1148.29,1626.5 L1151.95,1626.6 L1155.62,1626.8 L1158.70,1626.9 L1161.79,1627.0 L1164.89,1627.1 L1168.01,1627.2 L1171.14,1627.3 L1174.28,1627.4 L1177.44,1627.5 L1180.61,1627.6 L1183.80,1627.7 L1186.99,1627.8 L1190.21,1627.9 L1193.43,1628.0 L1196.67,1628.1 L1199.92,1628.2 L1203.19,1628.3 L1206.47,1628.4 L1209.77,1628.4 L1213.08,1628.5 L1216.40,1628.6 L1219.74,1628.7 L1223.09,1628.8 L1226.46,1628.9 L1229.84,1629.0 L1233.23,1629.1 L1236.64,1629.2 L1240.07,1629.3 L1243.51,1629.4 L1246.96,1629.5 L1250.43,1629.6 L1253.91,1629.7 L1257.41,1629.7 L1260.93,1629.8 L1264.45,1629.9 L1268.00,1630.0 L1271.56,1630.1 L1275.13,1630.2 L1278.72,1630.3 L1282.33,1630.4 L1285.95,1630.4 L1289.58,1630.5 L1293.24,1630.6 L1296.90,1630.7 L1300.59,1630.8 L1304.29,1630.9 L1308.00,1631.0 L1311.73,1631.0 L1315.48,1631.1 L1319.24,1631.2 L1323.02,1631.3 L1326.82,1631.4 L1330.63,1631.5 L1334.46,1631.5 L1338.30,1631.6 L1341.39,1631.7 L1344.49,1631.8 L1347.60,1631.8 L1350.72,1631.9 L1353.85,1632.0 L1356.99,1632.0 L1360.14,1632.1 L1363.30,1632.1 L1366.48,1632.2 L1369.66,1632.3 L1372.85,1632.3 L1376.06,1632.4 L1379.28,1632.5 L1382.51,1632.5 L1385.75,1632.6 L1389.00,1632.6 L1392.26,1632.7 L1395.53,1632.8 L1398.81,1632.8 L1402.11,1632.9 L1405.42,1633.0 L1408.73,1633.0 L1412.06,1633.1 L1415.40,1633.1 L1418.76,1633.2 L1422.12,1633.3 L1425.50,1633.3 L1428.88,1633.4 L1432.28,1633.4 L1435.69,1633.5 L1439.11,1633.6 L1442.55,1633.6 L1445.99,1633.7 L1449.45,1633.7 L1452.92,1633.8 L1456.40,1633.8 L1459.89,1633.9 L1463.40,1634.0 L1466.91,1634.0 L1470.44,1634.1 L1473.98,1634.1 L1477.54,1634.2 L1481.10,1634.2 L1484.68,1634.3 L1488.27,1634.4 L1491.87,1634.4 L1495.49,1634.5 L1499.11,1634.5 L1502.75,1634.6 L1506.41,1634.6 L1510.07,1634.7 L1513.75,1634.7 L1517.44,1634.8 L1521.14,1634.9 L1524.86,1634.9 L1528.58,1635.0 L1532.32,1635.0 L1536.08,1635.1 L1539.84,1635.1 L1543.62,1635.2 L1547.42,1635.2 L1551.22,1635.3 L1555.04,1635.3 L1558.87,1635.4 L1562.72,1635.4 L1566.57,1635.5 L1570.44,1635.5 L1574.33,1635.6 L1578.23,1635.6 L1582.14,1635.7 L1586.06,1635.7 L1590.00,1635.8 L1593.95,1635.8 L1597.92,1635.9 L1601.90,1635.9 L1605.89,1636.0 L1609.89,1636.0 L1613.91,1636.1 L1617.95,1636.1 L1622.00,1636.2 L1626.06,1636.2 L1630.13,1636.3 L1634.22,1636.3 L1638.32,1636.4 L1641.41,1636.4 L1644.51,1636.5 L1647.61,1636.5 L1650.72,1636.5 L1653.84,1636.6 L1656.96,1636.6 L1660.10,1636.6 L1663.24,1636.7 L1666.39,1636.7 L1669.55,1636.8 L1672.72,1636.8 L1675.89,1636.8 L1679.08,1636.9 L1682.27,1636.9 L1685.47,1636.9 L1688.68,1637.0 L1691.89,1637.0 L1695.12,1637.0 L1698.35,1637.1 L1701.59,1637.1 L1704.84,1637.1 L1708.10,1637.2 L1711.37,1637.2 L1714.64,1637.2 L1717.92,1637.3 L1721.22,1637.3 L1724.52,1637.3 L1727.82,1637.4 L1731.14,1637.4 L1734.47,1637.4 L1737.80,1637.5 L1741.14,1637.5 L1744.49,1637.5 L1747.85,1637.6 L1751.22,1637.6 L1754.60,1637.6 L1757.99,1637.7 L1761.38,1637.7 L1764.78,1637.7 L1768.20,1637.8 L1771.62,1637.8 L1775.05,1637.8 L1778.49,1637.9 L1781.93,1637.9 L1785.39,1637.9 L1788.86,1638.0 L1792.33,1638.0 L1795.81,1638.0 L1799.30,1638.1 L1802.81,1638.1 L1806.32,1638.1 L1809.83,1638.2 L1813.36,1638.2 L1816.90,1638.2 L1820.45,1638.3 L1824.00,1638.3 L1827.57,1638.3 L1831.14,1638.3 L1834.72,1638.4 L1838.31,1638.4 L1841.92,1638.4 L1845.53,1638.5 L1849.15,1638.5 L1852.78,1638.5 L1856.41,1638.6 L1860.06,1638.6 L1863.72,1638.6 L1867.39,1638.7 L1871.06,1638.7 L1874.75,1638.7 L1878.44,1638.7 L1882.15,1638.8 L1885.86,1638.8 L1889.59,1638.8 L1893.32,1638.9 L1897.06,1638.9 L1900.82,1638.9 L1904.58,1639.0 L1908.35,1639.0 L1912.13,1639.0 L1915.92,1639.0 L1919.72,1639.1 L1923.53,1639.1 L1927.36,1639.1 L1931.19,1639.2 L1935.03,1639.2 L1938.88,1639.2 L1942.74,1639.2 L1946.61,1639.3 L1950.49,1639.3 L1954.38,1639.3 L1958.28,1639.4 L1962.19,1639.4 L1966.11,1639.4 L1970.04,1639.4 L1973.98,1639.5 L1977.93,1639.5 L1981.89,1639.5 L1985.86,1639.5 L1989.84,1639.6 L1993.83,1639.6 L1997.83,1639.6 L2001.85,1639.7 L2005.87,1639.7 L2009.90,1639.7 L2013.94,1639.7 L2018.00,1639.8 L2022.06,1639.8 L2026.14,1639.8 L2030.22,1639.8 L2034.32,1639.9 L2038.42,1639.9 L2042.54,1639.9 L2046.66,1640.0 L2050.80,1640.0 L2054.95,1640.0 L2059.11,1640.0 L2063.28,1640.1 L2067.46,1640.1 L2071.65,1640.1 L2075.85,1640.1 L2080.06,1640.2 L2084.29,1640.2 L2088.52,1640.2 L2092.77,1640.2 L2097.02,1640.3 L2101.29,1640.3 L2105.57,1640.3 L2109.86,1640.3 L2114.16,1640.4 L2118.47,1640.4 L2122.79,1640.4 L2127.13,1640.4 L2131.47,1640.5 L2135.83,1640.5 L2140.19,1640.5 L2144.57,1640.5 L2148.96,1640.6 L2153.36,1640.6 L2157.77,1640.6 L2162.20,1640.6 L2166.63,1640.7 L2171.08,1640.7 L2175.54,1640.7 L2180.01,1640.7 L2184.49,1640.8 L2188.98,1640.8 L2193.48,1640.8 L2198.00,1640.8 L2202.52,1640.9 L2207.06,1640.9 L2211.61,1640.9 L2216.18,1640.9 L2220.75,1640.9 L2225.34,1641.0 L2229.93,1641.0 L2234.54,1641.0 L2237.62,1641.0 L2240.71,1641.1 L2243.80,1641.1 L2246.89,1641.1 L2249.99,1641.1 L2253.10,1641.1 L2256.21,1641.1 L2259.33,1641.1 L2262.45,1641.2 L2265.57,1641.2 L2268.71,1641.2 L2271.84,1641.2 L2274.99,1641.2 L2278.14,1641.2 L2281.29,1641.2 L2284.45,1641.3 L2287.62,1641.3 L2290.79,1641.3 L2293.96,1641.3 L2297.14,1641.3 L2300.33,1641.3 L2303.52,1641.4 L2306.72,1641.4 L2309.92,1641.4 L2313.13,1641.4 L2316.35,1641.4 L2319.57,1641.4 L2322.79,1641.4 L2326.02,1641.5 L2329.26,1641.5 L2332.50,1641.5 L2335.75,1641.5 L2339.00,1641.5 L2342.26,1641.5 L2345.52,1641.5 L2348.79,1641.6 L2352.07,1641.6 L2355.35,1641.6 L2358.63,1641.6 L2361.93,1641.6 L2365.22,1641.6 L2368.53,1641.6 L2371.84,1641.7 L2375.15,1641.7 L2378.47,1641.7 L2381.80,1641.7 L2385.13,1641.7 L2388.47,1641.7 L2391.81,1641.7 L2395.16,1641.8 L2398.52,1641.8 L2401.88,1641.8 L2405.24,1641.8 L2408.61,1641.8 L2411.99,1641.8 L2415.38,1641.8 L2418.77,1641.9 L2422.16,1641.9 L2425.56,1641.9 L2428.97,1641.9 L2432.38,1641.9 L2435.80,1641.9 L2439.23,1641.9 L2442.66,1641.9 L2446.09,1642.0 L2449.53,1642.0 L2452.98,1642.0 L2456.44,1642.0 L2459.90,1642.0 L2463.36,1642.0 L2466.83,1642.0 L2470.31,1642.1 L2473.79,1642.1 L2477.28,1642.1 L2480.78,1642.1 L2484.28,1642.1 L2487.79,1642.1 L2491.30,1642.1 L2494.82,1642.1 L2498.35,1642.2 L2501.88,1642.2 L2505.42,1642.2 L2508.96,1642.2 L2512.51,1642.2 L2516.07,1642.2 L2519.63,1642.2 L2523.20,1642.3 L2526.77,1642.3 L2530.35,1642.3 L2533.94,1642.3 L2537.53,1642.3 L2541.13,1642.3 L2544.74,1642.3 L2548.35,1642.3 L2551.97,1642.4 L2555.59,1642.4 L2559.22,1642.4 L2562.86,1642.4 L2566.50,1642.4 L2570.15,1642.4 L2573.80,1642.4 L2577.46,1642.4 L2581.13,1642.5 L2584.80,1642.5 L2588.48,1642.5 L2592.17,1642.5 L2595.86,1642.5 L2599.56,1642.5 L2603.27,1642.5 L2606.98,1642.5 L2610.70,1642.6 L2614.42,1642.6 L2618.15,1642.6 L2621.89,1642.6 L2625.63,1642.6 L2629.38,1642.6 L2633.14,1642.6 L2636.90,1642.6 L2640.67,1642.7 L2644.45,1642.7 L2648.23,1642.7 L2652.02,1642.7 L2655.81,1642.7 L2659.62,1642.7 L2663.42,1642.7 L2667.24,1642.7 L2671.06,1642.7 L2674.89,1642.8 L2678.72,1642.8 L2682.56,1642.8 L2686.41,1642.8 L2690.27,1642.8 L2694.13,1642.8 L2697.99,1642.8 L2701.87,1642.8 L2705.75,1642.9 L2709.64,1642.9 L2713.53,1642.9 L2717.43,1642.9 L2721.34,1642.9 L2725.25,1642.9 L2729.17,1642.9 L2733.10,1642.9 L2737.04,1642.9 L2740.98,1643.0 L2744.93,1643.0 L2748.88,1643.0 L2752.84,1643.0 L2756.81,1643.0 L2760.78,1643.0 L2764.77,1643.0 L2768.76,1643.0 L2772.75,1643.0 L2776.75,1643.1 L2780.76,1643.1 L2784.78,1643.1 L2788.80,1643.1 L2792.83,1643.1 L2796.87,1643.1 L2800.91,1643.1 L2804.96,1643.1 L2809.02,1643.1 L2813.08,1643.2 L2817.16,1643.2 L2821.23,1643.2 L2825.32,1643.2 L2829.41,1643.2 L2833.51,1643.2 L2837.62,1643.2 L2841.73,1643.2 L2845.85,1643.2 L2849.98,1643.3 L2854.12,1643.3 L2858.26,1643.3 L2862.41,1643.3 L2866.56,1643.3 L2870.73,1643.3 L2874.90,1643.3 L2879.07,1643.3 L2883.26,1643.3 L2887.45,1643.4 L2891.65,1643.4 L2895.86,1643.4 L2900.07,1643.4 L2904.29,1643.4 L2908.52,1643.4 L2912.75,1643.4 L2916.99,1643.4 L2921.24,1643.4 L2925.50,1643.4 L2929.77,1643.5 L2934.04,1643.5 L2938.32,1643.5 L2942.60,1643.5 L2946.90,1643.5 L2951.20,1643.5 L2955.51,1643.5 L2959.82,1643.5 L2964.14,1643.5 L2968.47,1643.5 L2972.81,1643.6 L2977.16,1643.6 L2981.51,1643.6 L2985.87,1643.6 L2990.24,1643.6 L2994.61,1643.6 L2999.00,1643.6 L3003.39,1643.6 L3007.79,1643.6 L3012.19,1643.6 L3016.60,1643.7 L3021.02,1643.7 L3025.45,1643.7 L3029.89,1643.7 L3034.33,1643.7 L3038.78,1643.7 L3043.24,1643.7 L3047.71,1643.7 L3052.18,1643.7 L3056.66,1643.7 L3061.15,1643.8 L3065.65,1643.8 L3070.15,1643.8 L3074.67,1643.8 L3079.19,1643.8 L3083.71,1643.8 L3088.25,1643.8 L3092.79,1643.8 L3097.34,1643.8 L3101.90,1643.8 L3106.47,1643.8 L3111.04,1643.9 L3115.63,1643.9 L3120.22,1643.9 L3124.82,1643.9 L3129.42,1643.9 L3134.04,1643.9 L3138.66,1643.9 L3143.29,1643.9 L3147.92,1643.9 L3152.57,1643.9 L3157.22,1643.9 L3161.89,1644.0 L3166.56,1644.0 L3171.23,1644.0 L3175.92,1644.0 L3180.61,1644.0 L3185.31,1644.0 L3190.02,1644.0 L3194.74,1644.0 L3199.47,1644.0 L3204.20,1644.0 L3208.94,1644.0 L3213.69,1644.1 L3218.45,1644.1 L3223.22,1644.1 L3227.99,1644.1 L3232.78,1644.1 L3237.57,1644.1 L3242.37,1644.1 L3247.18,1644.1 L3251.99,1644.1 L3256.82,1644.1 L3261.65,1644.1 L3266.49,1644.1 L3271.34,1644.2 L3276.20,1644.2 L3281.06,1644.2 L3285.94,1644.2 L3290.82,1644.2 L3295.71,1644.2 L3300.61,1644.2 L3305.52,1644.2 L3310.43,1644.2 L3315.36,1644.2 L3320.29,1644.2 L3325.23,1644.3 L3330.18,1644.3 L3335.14,1644.3 L3340.10,1644.3 L3345.08,1644.3 L3350.06,1644.3 L3355.06,1644.3 L3360.06,1644.3 L3365.07,1644.3 L3370.08,1644.3 L3372.60,1644.3" stroke="#77787a" stroke-width="5.8"/>
<path d="M458.16,919.2 L458.26,923.3 L458.36,927.3 L458.46,931.3 L458.57,935.9 L458.69,940.5 L458.81,945.1 L458.93,949.7 L459.05,954.2 L459.17,958.6 L459.29,963.1 L459.41,967.5 L459.53,971.9 L459.66,976.2 L459.78,980.6 L459.91,984.9 L460.03,989.1 L460.16,993.4 L460.29,997.6 L460.41,1001.8 L460.54,1005.9 L460.67,1010.0 L460.80,1014.1 L460.93,1018.2 L461.06,1022.2 L461.20,1026.2 L461.35,1030.8 L461.50,1035.3 L461.66,1039.8 L461.81,1044.2 L461.97,1048.6 L462.13,1053.0 L462.29,1057.3 L462.45,1061.6 L462.61,1065.9 L462.77,1070.1 L462.93,1074.3 L463.10,1078.5 L463.26,1082.7 L463.43,1086.8 L463.60,1090.8 L463.76,1094.9 L463.93,1098.9 L464.13,1103.4 L464.32,1107.8 L464.52,1112.2 L464.71,1116.6 L464.91,1120.9 L465.11,1125.2 L465.31,1129.4 L465.52,1133.6 L465.72,1137.8 L465.93,1141.9 L466.14,1146.0 L466.34,1150.1 L466.56,1154.1 L466.77,1158.1 L467.01,1162.5 L467.25,1166.8 L467.49,1171.1 L467.73,1175.4 L467.98,1179.6 L468.23,1183.8 L468.48,1188.0 L468.73,1192.1 L468.99,1196.1 L469.24,1200.2 L469.50,1204.1 L469.79,1208.5 L470.08,1212.8 L470.38,1217.0 L470.67,1221.2 L470.97,1225.4 L471.27,1229.5 L471.58,1233.6 L471.88,1237.6 L472.19,1241.6 L472.53,1245.9 L472.88,1250.1 L473.23,1254.3 L473.58,1258.5 L473.94,1262.6 L474.30,1266.6 L474.66,1270.7 L475.06,1275.0 L475.46,1279.2 L475.87,1283.4 L476.28,1287.5 L476.69,1291.6 L477.11,1295.6 L477.54,1299.6 L478.00,1303.9 L478.47,1308.0 L478.94,1312.2 L479.42,1316.2 L479.91,1320.2 L480.40,1324.2 L480.93,1328.4 L481.47,1332.5 L482.02,1336.6 L482.57,1340.6 L483.13,1344.5 L483.74,1348.7 L484.35,1352.8 L484.98,1356.8 L485.61,1360.8 L486.29,1364.9 L486.98,1369.0 L487.68,1373.1 L488.39,1377.0 L489.11,1380.9 L489.88,1385.0 L490.67,1389.0 L491.47,1392.9 L492.28,1396.8 L493.15,1400.8 L494.03,1404.7 L494.93,1408.6 L495.89,1412.5 L496.87,1416.5 L497.86,1420.3 L498.87,1424.1 L499.95,1428.0 L501.05,1431.8 L502.17,1435.6 L503.37,1439.4 L504.59,1443.2 L505.83,1446.9 L507.15,1450.7 L508.49,1454.4 L509.87,1458.0 L511.33,1461.7 L512.82,1465.3 L514.35,1468.9 L515.90,1472.4 L517.56,1475.9 L519.25,1479.4 L520.97,1482.8 L522.74,1486.1 L524.54,1489.3 L526.45,1492.6 L528.41,1495.9 L530.41,1499.0 L532.45,1502.1 L534.54,1505.1 L536.68,1508.1 L538.86,1510.9 L541.10,1513.8 L543.38,1516.5 L545.71,1519.2 L548.10,1521.8 L550.54,1524.4 L553.04,1526.9 L555.59,1529.4 L558.09,1531.7 L560.65,1534.0 L563.27,1536.3 L565.94,1538.4 L568.66,1540.6 L571.34,1542.6 L574.07,1544.6 L576.85,1546.5 L579.69,1548.4 L582.47,1550.2 L585.31,1552.0 L588.20,1553.7 L591.01,1555.3 L593.88,1556.9 L596.81,1558.5 L599.79,1560.0 L602.69,1561.5 L605.63,1562.9 L608.64,1564.3 L611.55,1565.6 L614.50,1566.9 L617.51,1568.2 L620.58,1569.5 L623.53,1570.7 L626.54,1571.8 L629.59,1573.0 L632.70,1574.1 L635.68,1575.2 L638.72,1576.2 L641.79,1577.2 L644.92,1578.2 L647.92,1579.2 L650.96,1580.1 L654.05,1581.1 L657.18,1582.0 L660.35,1582.9 L663.38,1583.7 L666.46,1584.6 L669.57,1585.4 L672.73,1586.2 L675.93,1587.0 L678.97,1587.8 L682.05,1588.5 L685.17,1589.2 L688.32,1590.0 L691.52,1590.7 L694.76,1591.4 L697.83,1592.1 L700.92,1592.7 L704.06,1593.4 L707.23,1594.0 L710.44,1594.6 L713.69,1595.3 L716.75,1595.8 L719.83,1596.4 L722.95,1597.0 L726.11,1597.6 L729.30,1598.1 L732.52,1598.7 L735.78,1599.2 L739.08,1599.8 L742.16,1600.3 L745.26,1600.8 L748.40,1601.3 L751.57,1601.8 L754.78,1602.3 L758.02,1602.8 L761.29,1603.2 L764.59,1603.7 L767.93,1604.2 L771.02,1604.6 L774.13,1605.1 L777.28,1605.5 L780.46,1605.9 L783.67,1606.3 L786.90,1606.8 L790.17,1607.2 L793.47,1607.6 L796.80,1608.0 L800.16,1608.4 L803.24,1608.8 L806.35,1609.1 L809.49,1609.5 L812.65,1609.9 L815.84,1610.2 L819.05,1610.6 L822.30,1611.0 L825.57,1611.3 L828.87,1611.7 L832.19,1612.0 L835.55,1612.4 L838.93,1612.7 L842.00,1613.0 L845.10,1613.4 L848.22,1613.7 L851.36,1614.0 L854.52,1614.3 L857.71,1614.6 L860.93,1614.9 L864.17,1615.2 L867.43,1615.5 L870.72,1615.8 L874.03,1616.1 L877.37,1616.4 L880.74,1616.7 L884.13,1617.0 L887.55,1617.3 L890.99,1617.6 L894.08,1617.8 L897.18,1618.1 L900.30,1618.4 L903.45,1618.6 L906.62,1618.9 L909.81,1619.1 L913.02,1619.4 L916.25,1619.6 L919.51,1619.9 L922.79,1620.1 L926.09,1620.4 L929.41,1620.6 L932.75,1620.9 L936.12,1621.1 L939.51,1621.4 L942.93,1621.6 L946.37,1621.9 L949.83,1622.1 L953.31,1622.3 L956.82,1622.6 L959.91,1622.8 L963.02,1623.0 L966.14,1623.2 L969.29,1623.4 L972.45,1623.6 L975.63,1623.8 L978.83,1624.1 L982.05,1624.3 L985.29,1624.5 L988.55,1624.7 L991.83,1624.9 L995.13,1625.1 L998.45,1625.3 L1001.78,1625.5 L1005.14,1625.7 L1008.52,1625.9 L1011.92,1626.1 L1015.33,1626.3 L1018.77,1626.5 L1022.23,1626.7 L1025.71,1626.9 L1029.21,1627.1 L1032.73,1627.3 L1036.27,1627.5 L1039.84,1627.7 L1043.42,1627.9 L1046.51,1628.1 L1049.62,1628.2 L1052.74,1628.4 L1055.87,1628.6 L1059.03,1628.7 L1062.20,1628.9 L1065.38,1629.1 L1068.58,1629.2 L1071.80,1629.4 L1075.03,1629.5 L1078.28,1629.7 L1081.55,1629.9 L1084.84,1630.0 L1088.14,1630.2 L1091.46,1630.4 L1094.79,1630.5 L1098.14,1630.7 L1101.51,1630.9 L1104.90,1631.0 L1108.30,1631.2 L1111.72,1631.3 L1115.16,1631.5 L1118.61,1631.7 L1122.09,1631.8 L1125.58,1632.0 L1129.09,1632.1 L1132.62,1632.3 L1136.16,1632.4 L1139.72,1632.6 L1143.31,1632.8 L1146.91,1632.9 L1150.52,1633.1 L1154.16,1633.2 L1157.81,1633.4 L1161.49,1633.5 L1164.56,1633.7 L1167.65,1633.8 L1170.76,1633.9 L1173.87,1634.1 L1177.00,1634.2 L1180.14,1634.3 L1183.30,1634.5 L1186.47,1634.6 L1189.65,1634.7 L1192.84,1634.8 L1196.05,1635.0 L1199.28,1635.1 L1202.51,1635.2 L1205.76,1635.3 L1209.03,1635.5 L1212.31,1635.6 L1215.60,1635.7 L1218.90,1635.9 L1222.22,1636.0 L1225.56,1636.1 L1228.91,1636.2 L1232.27,1636.4 L1235.65,1636.5 L1239.04,1636.6 L1242.44,1636.7 L1245.86,1636.9 L1249.30,1637.0 L1252.75,1637.1 L1256.21,1637.2 L1259.69,1637.3 L1263.19,1637.5 L1266.69,1637.6 L1270.22,1637.7 L1273.76,1637.8 L1277.31,1638.0 L1280.88,1638.1 L1284.46,1638.2 L1288.06,1638.3 L1291.68,1638.5 L1295.31,1638.6 L1298.95,1638.7 L1302.61,1638.8 L1306.29,1638.9 L1309.98,1639.1 L1313.69,1639.2 L1317.41,1639.3 L1321.15,1639.4 L1324.91,1639.5 L1328.68,1639.7 L1332.47,1639.8 L1336.27,1639.9 L1340.09,1640.0 L1343.93,1640.1 L1347.01,1640.2 L1350.10,1640.3 L1353.20,1640.4 L1356.31,1640.5 L1359.44,1640.6 L1362.57,1640.7 L1365.71,1640.8 L1368.87,1640.9 L1372.03,1641.0 L1375.21,1641.1 L1378.40,1641.2 L1381.60,1641.3 L1384.80,1641.4 L1388.02,1641.5 L1391.25,1641.6 L1394.50,1641.7 L1397.75,1641.8 L1401.01,1641.9 L1404.29,1641.9 L1407.57,1642.0 L1410.87,1642.1 L1414.18,1642.2 L1417.50,1642.3 L1420.83,1642.4 L1424.17,1642.5 L1427.53,1642.6 L1430.89,1642.7 L1434.27,1642.8 L1437.66,1642.9 L1441.06,1643.0 L1444.47,1643.1 L1447.89,1643.2 L1451.32,1643.2 L1454.77,1643.3 L1458.23,1643.4 L1461.70,1643.5 L1465.18,1643.6 L1468.67,1643.7 L1472.18,1643.8 L1475.69,1643.9 L1479.22,1644.0 L1482.76,1644.1 L1486.32,1644.2 L1489.88,1644.3 L1493.46,1644.4 L1497.05,1644.4 L1500.65,1644.5 L1504.27,1644.6 L1507.89,1644.7 L1511.53,1644.8 L1515.18,1644.9 L1518.85,1645.0 L1522.52,1645.1 L1526.21,1645.2 L1529.91,1645.3 L1533.62,1645.3 L1537.35,1645.4 L1541.09,1645.5 L1544.84,1645.6 L1548.61,1645.7 L1552.38,1645.8 L1556.17,1645.9 L1559.98,1646.0 L1563.79,1646.1 L1567.62,1646.2 L1571.46,1646.2 L1575.32,1646.3 L1579.19,1646.4 L1583.07,1646.5 L1586.96,1646.6 L1590.87,1646.7 L1594.79,1646.8 L1598.73,1646.9 L1602.67,1647.0 L1606.63,1647.0 L1610.61,1647.1 L1614.60,1647.2 L1618.60,1647.3 L1622.62,1647.4 L1626.64,1647.5 L1630.69,1647.6 L1634.74,1647.7 L1638.81,1647.8 L1642.90,1647.8 L1647.00,1647.9 L1650.08,1648.0 L1653.17,1648.1 L1656.27,1648.1 L1659.38,1648.2 L1662.49,1648.3 L1665.61,1648.3 L1668.74,1648.4 L1671.88,1648.5 L1675.03,1648.5 L1678.18,1648.6 L1681.34,1648.7 L1684.51,1648.7 L1687.69,1648.8 L1690.88,1648.9 L1694.07,1648.9 L1697.28,1649.0 L1700.49,1649.0 L1703.71,1649.1 L1706.94,1649.2 L1710.17,1649.2 L1713.41,1649.3 L1716.67,1649.4 L1719.93,1649.4 L1723.20,1649.5 L1726.47,1649.6 L1729.76,1649.6 L1733.05,1649.7 L1736.36,1649.8 L1739.67,1649.8 L1742.99,1649.9 L1746.31,1650.0 L1749.65,1650.0 L1752.99,1650.1 L1756.35,1650.2 L1759.71,1650.2 L1763.08,1650.3 L1766.46,1650.3 L1769.85,1650.4 L1773.24,1650.5 L1776.65,1650.5 L1780.06,1650.6 L1783.48,1650.7 L1786.91,1650.7 L1790.35,1650.8 L1793.80,1650.9 L1797.26,1650.9 L1800.73,1651.0 L1804.20,1651.1 L1807.69,1651.1 L1811.18,1651.2 L1814.68,1651.2 L1818.19,1651.3 L1821.71,1651.4 L1825.24,1651.4 L1828.78,1651.5 L1832.32,1651.6 L1835.88,1651.6 L1839.44,1651.7 L1843.02,1651.8 L1846.60,1651.8 L1850.19,1651.9 L1853.79,1651.9 L1857.40,1652.0 L1861.02,1652.1 L1864.65,1652.1 L1868.29,1652.2 L1871.94,1652.3 L1875.60,1652.3 L1879.26,1652.4 L1882.94,1652.5 L1886.62,1652.5 L1890.32,1652.6 L1894.02,1652.6 L1897.73,1652.7 L1901.46,1652.8 L1905.19,1652.8 L1908.93,1652.9 L1912.68,1653.0 L1916.44,1653.0 L1920.21,1653.1 L1923.99,1653.1 L1927.78,1653.2 L1931.58,1653.3 L1935.39,1653.3 L1939.21,1653.4 L1943.04,1653.5 L1946.88,1653.5 L1950.72,1653.6 L1954.58,1653.6 L1958.45,1653.7 L1962.33,1653.8 L1966.21,1653.8 L1970.11,1653.9 L1974.02,1654.0 L1977.94,1654.0 L1981.86,1654.1 L1985.80,1654.1 L1989.75,1654.2 L1993.70,1654.3 L1997.67,1654.3 L2001.65,1654.4 L2005.64,1654.5 L2009.64,1654.5 L2013.64,1654.6 L2017.66,1654.6 L2021.69,1654.7 L2025.73,1654.8 L2029.78,1654.8 L2033.84,1654.9 L2037.91,1655.0 L2041.99,1655.0 L2046.08,1655.1 L2050.18,1655.1 L2054.29,1655.2 L2058.41,1655.3 L2062.55,1655.3 L2066.69,1655.4 L2070.84,1655.5 L2075.01,1655.5 L2079.18,1655.6 L2083.37,1655.6 L2087.56,1655.7 L2091.77,1655.8 L2095.99,1655.8 L2100.22,1655.9 L2104.46,1655.9 L2108.71,1656.0 L2112.97,1656.1 L2117.24,1656.1 L2121.52,1656.2 L2125.82,1656.2 L2130.12,1656.3 L2134.44,1656.4 L2138.76,1656.4 L2143.10,1656.5 L2147.45,1656.6 L2151.81,1656.6 L2156.18,1656.7 L2160.56,1656.7 L2164.96,1656.8 L2169.36,1656.9 L2173.78,1656.9 L2178.20,1657.0 L2182.64,1657.0 L2187.09,1657.1 L2191.55,1657.2 L2196.02,1657.2 L2200.51,1657.3 L2205.00,1657.3 L2209.51,1657.4 L2214.03,1657.5 L2218.56,1657.5 L2223.10,1657.6 L2227.65,1657.7 L2232.22,1657.7 L2236.79,1657.8 L2241.38,1657.8 L2245.98,1657.9 L2250.59,1658.0 L2253.67,1658.0 L2256.76,1658.0 L2259.85,1658.1 L2262.94,1658.1 L2266.05,1658.2 L2269.15,1658.2 L2272.26,1658.2 L2275.38,1658.3 L2278.51,1658.3 L2281.63,1658.4 L2284.77,1658.4 L2287.91,1658.4 L2291.05,1658.5 L2294.20,1658.5 L2297.35,1658.6 L2300.51,1658.6 L2303.68,1658.6 L2306.85,1658.7 L2310.03,1658.7 L2313.21,1658.8 L2316.40,1658.8 L2319.59,1658.8 L2322.79,1658.9 L2325.99,1658.9 L2329.20,1659.0 L2332.41,1659.0 L2335.63,1659.0 L2338.86,1659.1 L2342.09,1659.1 L2345.33,1659.2 L2348.57,1659.2 L2351.81,1659.2 L2355.07,1659.3 L2358.33,1659.3 L2361.59,1659.4 L2364.86,1659.4 L2368.13,1659.4 L2371.41,1659.5 L2374.70,1659.5 L2377.99,1659.6 L2381.29,1659.6 L2384.59,1659.6 L2387.90,1659.7 L2391.21,1659.7 L2394.53,1659.8 L2397.86,1659.8 L2401.19,1659.8 L2404.53,1659.9 L2407.87,1659.9 L2411.22,1660.0 L2414.57,1660.0 L2417.93,1660.0 L2421.30,1660.1 L2424.67,1660.1 L2428.04,1660.2 L2431.43,1660.2 L2434.82,1660.2 L2438.21,1660.3 L2441.61,1660.3 L2445.01,1660.4 L2448.43,1660.4 L2451.84,1660.4 L2455.27,1660.5 L2458.69,1660.5 L2462.13,1660.6 L2465.57,1660.6 L2469.02,1660.6 L2472.47,1660.7 L2475.93,1660.7 L2479.39,1660.8 L2482.86,1660.8 L2486.33,1660.8 L2489.82,1660.9 L2493.30,1660.9 L2496.80,1661.0 L2500.30,1661.0 L2503.80,1661.0 L2507.31,1661.1 L2510.83,1661.1 L2514.35,1661.1 L2517.88,1661.2 L2521.42,1661.2 L2524.96,1661.3 L2528.51,1661.3 L2532.06,1661.3 L2535.62,1661.4 L2539.18,1661.4 L2542.76,1661.5 L2546.33,1661.5 L2549.92,1661.5 L2553.51,1661.6 L2557.10,1661.6 L2560.70,1661.7 L2564.31,1661.7 L2567.93,1661.7 L2571.55,1661.8 L2575.17,1661.8 L2578.80,1661.9 L2582.44,1661.9 L2586.09,1661.9 L2589.74,1662.0 L2593.40,1662.0 L2597.06,1662.1 L2600.73,1662.1 L2604.41,1662.1 L2608.09,1662.2 L2611.78,1662.2 L2615.47,1662.3 L2619.17,1662.3 L2622.88,1662.3 L2626.59,1662.4 L2630.31,1662.4 L2634.04,1662.4 L2637.77,1662.5 L2641.51,1662.5 L2645.26,1662.6 L2649.01,1662.6 L2652.77,1662.6 L2656.53,1662.7 L2660.30,1662.7 L2664.08,1662.8 L2667.86,1662.8 L2671.65,1662.8 L2675.45,1662.9 L2679.25,1662.9 L2683.06,1663.0 L2686.88,1663.0 L2690.70,1663.0 L2694.53,1663.1 L2698.37,1663.1 L2702.21,1663.2 L2706.06,1663.2 L2709.91,1663.2 L2713.77,1663.3 L2717.64,1663.3 L2721.52,1663.3 L2725.40,1663.4 L2729.29,1663.4 L2733.18,1663.5 L2737.08,1663.5 L2740.99,1663.5 L2744.91,1663.6 L2748.83,1663.6 L2752.75,1663.7 L2756.69,1663.7 L2760.63,1663.7 L2764.58,1663.8 L2768.53,1663.8 L2772.49,1663.9 L2776.46,1663.9 L2780.44,1663.9 L2784.42,1664.0 L2788.41,1664.0 L2792.40,1664.0 L2796.40,1664.1 L2800.41,1664.1 L2804.43,1664.2 L2808.45,1664.2 L2812.48,1664.2 L2816.52,1664.3 L2820.56,1664.3 L2824.61,1664.4 L2828.67,1664.4 L2832.73,1664.4 L2836.80,1664.5 L2840.88,1664.5 L2844.96,1664.6 L2849.05,1664.6 L2853.15,1664.6 L2857.26,1664.7 L2861.37,1664.7 L2865.49,1664.7 L2869.61,1664.8 L2873.75,1664.8 L2877.89,1664.9 L2882.04,1664.9 L2886.19,1664.9 L2890.35,1665.0 L2894.52,1665.0 L2898.70,1665.1 L2902.88,1665.1 L2907.07,1665.1 L2911.27,1665.2 L2915.47,1665.2 L2919.68,1665.2 L2923.90,1665.3 L2928.12,1665.3 L2932.36,1665.4 L2936.60,1665.4 L2940.84,1665.4 L2942.97,1665.5" stroke="#58595b" stroke-width="5.5"/>
</g>
</g>
<g clip-path="url(#pc)">
<rect x="574.5" y="368.0" width="29" height="29" fill="#bdbec0"/>
<rect x="641.3" y="1114.5" width="29" height="29" fill="#bdbec0"/>
<rect x="692.5" y="1322.5" width="29" height="29" fill="#bdbec0"/>
<rect x="719.5" y="1382.5" width="29" height="29" fill="#bdbec0"/>
<rect x="1055.5" y="1569.5" width="29" height="29" fill="#bdbec0"/>
<rect x="1574.5" y="1632.5" width="29" height="29" fill="#bdbec0"/>
<rect x="1894.5" y="1603.5" width="29" height="29" fill="#bdbec0"/>
<rect x="3402.5" y="1607.5" width="29" height="29" fill="#bdbec0"/>
<circle cx="607.0" cy="1190.0" r="14.2" fill="#b3b4b6"/>
<circle cx="652.9" cy="1469.7" r="14.2" fill="#b3b4b6"/>
<circle cx="692.0" cy="1530.0" r="14.2" fill="#b3b4b6"/>
<circle cx="770.0" cy="1594.5" r="14.2" fill="#b3b4b6"/>
<circle cx="1855.0" cy="1664.0" r="14.2" fill="#b3b4b6"/>
<circle cx="1960.7" cy="1703.0" r="14.2" fill="#b3b4b6"/>
<circle cx="4198.0" cy="1658.0" r="14.2" fill="#b3b4b6"/>
<polygon points="661.5,1575.0 675.5,1589.0 661.5,1603.0 647.5,1589.0" fill="#a0a1a3"/>
<polygon points="717.0,1576.0 731.0,1590.0 717.0,1604.0 703.0,1590.0" fill="#a0a1a3"/>
<polygon points="1075.5,1620.0 1089.5,1634.0 1075.5,1648.0 1061.5,1634.0" fill="#a0a1a3"/>
<polygon points="1621.4,1686.5 1635.4,1700.5 1621.4,1714.5 1607.4,1700.5" fill="#a0a1a3"/>
<polygon points="1899.2,1695.0 1913.2,1709.0 1899.2,1723.0 1885.2,1709.0" fill="#a0a1a3"/>
<polygon points="4170.0,1694.0 4184.0,1708.0 4170.0,1722.0 4156.0,1708.0" fill="#a0a1a3"/>
<polygon points="1126.0,1600.8 1110.0,1627.8 1142.0,1627.8" fill="#a6a7a9"/>
<circle cx="611.6" cy="1315.0" r="15.0" fill="#88898b"/>
<circle cx="634.4" cy="1301.0" r="15.0" fill="#88898b"/>
<circle cx="650.2" cy="1322.0" r="15.0" fill="#88898b"/>
<circle cx="699.3" cy="1466.0" r="15.0" fill="#88898b"/>
<circle cx="745.0" cy="1481.0" r="15.0" fill="#88898b"/>
<circle cx="1104.0" cy="1585.6" r="15.0" fill="#88898b"/>
<circle cx="1525.7" cy="1597.4" r="15.0" fill="#88898b"/>
<circle cx="1814.0" cy="1620.6" r="15.0" fill="#88898b"/>
<circle cx="4198.0" cy="1647.0" r="15.0" fill="#88898b"/>
<circle cx="623.0" cy="1210.0" r="11.0" fill="#77787a"/>
<circle cx="715.0" cy="1503.0" r="11.0" fill="#77787a"/>
<circle cx="1036.0" cy="1609.0" r="11.0" fill="#77787a"/>
<circle cx="1458.7" cy="1631.6" r="11.0" fill="#77787a"/>
<circle cx="1817.0" cy="1640.7" r="11.0" fill="#77787a"/>
<path d="M593.39,1437.6 L593.74,1441.7 L594.09,1445.7 L594.47,1449.9 L594.86,1454.0 L595.25,1458.0 L595.67,1462.1 L596.10,1466.1 L596.56,1470.3 L597.03,1474.3 L597.53,1478.5 L598.04,1482.5 L598.58,1486.6 L599.14,1490.6 L599.73,1494.7 L600.33,1498.7 L600.98,1502.8 L601.66,1506.9 L602.36,1510.9 L603.11,1514.9 L603.90,1518.9 L604.71,1522.9 L605.57,1526.8 L606.49,1530.8 L607.46,1534.7 L608.49,1538.7 L609.59,1542.6 L610.75,1546.5 L611.99,1550.4 L613.30,1554.3 L614.69,1558.1 L616.17,1561.9 L617.74,1565.6 L619.41,1569.2 L621.18,1572.8 L623.06,1576.4 L625.06,1579.8 L627.18,1583.2 L629.44,1586.6 L631.85,1589.8 L634.41,1593.0 L637.08,1596.1 L639.86,1599.0 L642.75,1601.8 L645.77,1604.4 L648.91,1607.0 L652.11,1609.4 L655.44,1611.7 L658.83,1613.9 L662.27,1615.9 L665.85,1617.9 L669.48,1619.8 L673.15,1621.5 L676.87,1623.2 L680.62,1624.8 L684.40,1626.3 L688.21,1627.7 L692.04,1629.0 L695.88,1630.3 L699.73,1631.5 L703.57,1632.6 L707.54,1633.8 L711.49,1634.8 L715.43,1635.8 L719.35,1636.8 L723.37,1637.7 L727.36,1638.6 L731.32,1639.5 L735.37,1640.3 L739.38,1641.1 L743.32,1641.8 L747.37,1642.6 L751.34,1643.3 L755.40,1644.0 L759.39,1644.6 L763.47,1645.3 L767.45,1645.9 L771.52,1646.5 L775.49,1647.1 L779.54,1647.7 L783.67,1648.2 L787.69,1648.8 L791.78,1649.3 L795.75,1649.8 L799.79,1650.3 L803.90,1650.8 L807.88,1651.2 L811.92,1651.7 L816.03,1652.2 L820.22,1652.6 L824.24,1653.0 L828.34,1653.5 L832.50,1653.9 L836.49,1654.3 L840.54,1654.7 L844.65,1655.1 L848.82,1655.4 L852.81,1655.8 L856.86,1656.2 L860.96,1656.5 L865.12,1656.9 L869.34,1657.2 L873.35,1657.6 L877.42,1657.9 L881.54,1658.2 L885.71,1658.6 L889.94,1658.9 L893.94,1659.2 L898.00,1659.5 L902.10,1659.8 L906.25,1660.1 L910.45,1660.4 L914.71,1660.7 L918.71,1660.9 L922.76,1661.2 L926.86,1661.5 L931.00,1661.8 L935.19,1662.0 L939.43,1662.3 L943.72,1662.6 L947.72,1662.8 L951.76,1663.1 L955.85,1663.3 L959.99,1663.6 L964.16,1663.8 L968.39,1664.0 L972.65,1664.3 L976.97,1664.5 L980.96,1664.8 L984.99,1665.0 L989.07,1665.2 L993.18,1665.4 L997.34,1665.6 L1001.53,1665.9 L1005.77,1666.1 L1010.04,1666.3 L1014.36,1666.5 L1018.72,1666.7 L1022.73,1666.9 L1026.76,1667.1 L1030.84,1667.3 L1034.95,1667.5 L1039.10,1667.7 L1043.28,1667.9 L1047.50,1668.1 L1051.76,1668.3 L1056.06,1668.5 L1060.40,1668.7 L1064.77,1668.9 L1069.18,1669.1 L1073.19,1669.2 L1077.23,1669.4 L1081.30,1669.6 L1085.40,1669.8 L1089.54,1669.9 L1093.71,1670.1 L1097.91,1670.3 L1102.15,1670.5 L1106.42,1670.6 L1110.72,1670.8 L1115.06,1671.0 L1119.44,1671.1 L1123.85,1671.3 L1128.29,1671.5 L1132.77,1671.7 L1136.79,1671.8 L1140.83,1672.0 L1144.90,1672.1 L1149.00,1672.3 L1153.13,1672.4 L1157.29,1672.6 L1161.48,1672.7 L1165.69,1672.9 L1169.94,1673.0 L1174.22,1673.2 L1178.53,1673.3 L1182.87,1673.5 L1187.24,1673.6 L1191.64,1673.8 L1196.08,1673.9 L1200.54,1674.0 L1205.04,1674.2 L1209.57,1674.3 L1214.13,1674.5 L1218.14,1674.6 L1222.19,1674.8 L1226.26,1674.9 L1230.35,1675.0 L1234.47,1675.1 L1238.61,1675.3 L1242.78,1675.4 L1246.98,1675.5 L1251.20,1675.7 L1255.45,1675.8 L1259.73,1675.9 L1264.03,1676.0 L1268.36,1676.2 L1272.72,1676.3 L1277.10,1676.4 L1281.51,1676.6 L1285.95,1676.7 L1290.42,1676.8 L1294.91,1676.9 L1299.43,1677.1 L1303.98,1677.2 L1308.56,1677.3 L1313.17,1677.4 L1317.80,1677.6 L1322.47,1677.7 L1326.49,1677.8 L1330.53,1677.9 L1334.60,1678.0 L1338.69,1678.1 L1342.79,1678.2 L1346.93,1678.4 L1351.08,1678.5 L1355.25,1678.6 L1359.45,1678.7 L1363.67,1678.8 L1367.91,1678.9 L1372.18,1679.0 L1376.46,1679.1 L1380.77,1679.2 L1385.11,1679.3 L1389.46,1679.4 L1393.84,1679.5 L1398.25,1679.7 L1402.68,1679.8 L1407.13,1679.9 L1411.60,1680.0 L1416.10,1680.1 L1420.62,1680.2 L1425.17,1680.3 L1429.74,1680.4 L1434.33,1680.5 L1438.95,1680.6 L1443.60,1680.7 L1448.27,1680.8 L1452.96,1680.9 L1457.68,1681.1 L1462.43,1681.2 L1467.20,1681.3 L1471.99,1681.4 L1476.01,1681.5 L1480.04,1681.6 L1484.10,1681.6 L1488.17,1681.7 L1492.25,1681.8 L1496.36,1681.9 L1500.49,1682.0 L1504.63,1682.1 L1508.79,1682.2 L1512.97,1682.3 L1517.17,1682.4 L1521.39,1682.4 L1525.62,1682.5 L1529.88,1682.6 L1534.15,1682.7 L1538.44,1682.8 L1542.76,1682.9 L1547.09,1683.0 L1551.44,1683.1 L1555.81,1683.1 L1560.20,1683.2 L1564.61,1683.3 L1569.04,1683.4 L1573.48,1683.5 L1577.95,1683.6 L1582.44,1683.7 L1586.95,1683.8 L1591.48,1683.9 L1596.03,1683.9 L1600.59,1684.0 L1605.18,1684.1 L1609.79,1684.2 L1614.42,1684.3 L1619.07,1684.4 L1623.74,1684.5 L1628.44,1684.6 L1633.15,1684.7 L1637.88,1684.7 L1642.64,1684.8 L1647.41,1684.9 L1652.21,1685.0 L1657.03,1685.1 L1661.87,1685.2 L1666.73,1685.3 L1671.62,1685.4 L1676.52,1685.4 L1681.45,1685.5 L1686.40,1685.6 L1691.37,1685.7 L1696.36,1685.8 L1700.37,1685.9 L1704.40,1685.9 L1708.44,1686.0 L1712.49,1686.1 L1716.56,1686.1 L1720.64,1686.2 L1724.74,1686.3 L1728.85,1686.4 L1732.98,1686.4 L1737.12,1686.5 L1741.28,1686.6 L1745.45,1686.6 L1749.63,1686.7 L1753.83,1686.8 L1758.05,1686.8 L1762.28,1686.9 L1766.52,1687.0 L1770.79,1687.1 L1775.06,1687.1 L1779.35,1687.2 L1783.66,1687.3 L1787.98,1687.3 L1792.32,1687.4 L1796.67,1687.5 L1801.04,1687.5 L1805.42,1687.6 L1809.82,1687.7 L1814.24,1687.8 L1818.67,1687.8 L1823.11,1687.9 L1827.58,1688.0 L1832.05,1688.0 L1836.55,1688.1 L1841.06,1688.2 L1845.58,1688.2 L1850.13,1688.3 L1854.68,1688.4 L1859.26,1688.4 L1863.85,1688.5 L1868.46,1688.6 L1873.08,1688.7 L1877.72,1688.7 L1882.38,1688.8 L1887.05,1688.9 L1891.74,1688.9 L1896.45,1689.0 L1901.17,1689.1 L1905.91,1689.1 L1910.67,1689.2 L1915.44,1689.3 L1920.24,1689.4 L1925.04,1689.4 L1929.87,1689.5 L1934.71,1689.6 L1939.57,1689.6 L1944.45,1689.7 L1949.34,1689.8 L1954.25,1689.8 L1959.18,1689.9 L1964.13,1690.0 L1969.10,1690.0 L1974.08,1690.1 L1979.08,1690.2 L1984.10,1690.3 L1989.13,1690.3 L1994.19,1690.4 L1999.26,1690.5 L2004.35,1690.5 L2009.45,1690.6 L2014.58,1690.7 L2019.73,1690.7 L2024.89,1690.8 L2030.07,1690.9 L2035.27,1690.9 L2040.49,1691.0 L2045.72,1691.1 L2050.98,1691.2 L2056.25,1691.2 L2061.55,1691.3 L2066.86,1691.4 L2072.19,1691.4 L2076.20,1691.5 L2080.22,1691.5 L2084.25,1691.6 L2088.29,1691.6 L2092.35,1691.7 L2096.41,1691.7 L2100.49,1691.8 L2104.57,1691.8 L2108.67,1691.9 L2112.78,1691.9 L2116.90,1692.0 L2121.03,1692.0 L2125.17,1692.1 L2129.32,1692.2 L2133.48,1692.2 L2137.65,1692.3 L2141.84,1692.3 L2146.04,1692.4 L2150.24,1692.4 L2154.46,1692.5 L2158.69,1692.5 L2162.93,1692.6 L2167.19,1692.6 L2171.45,1692.7 L2175.73,1692.7 L2180.01,1692.8 L2184.31,1692.8 L2188.62,1692.9 L2192.94,1692.9 L2197.28,1693.0 L2201.62,1693.0 L2205.98,1693.1 L2210.34,1693.1 L2214.72,1693.2 L2219.11,1693.2 L2223.52,1693.3 L2227.93,1693.3 L2232.36,1693.4 L2236.80,1693.4 L2241.25,1693.5 L2245.71,1693.5 L2250.18,1693.6 L2254.67,1693.7 L2259.17,1693.7 L2263.68,1693.8 L2268.20,1693.8 L2272.73,1693.9 L2277.28,1693.9 L2281.83,1694.0 L2286.41,1694.0 L2290.99,1694.1 L2295.58,1694.1 L2300.19,1694.2 L2304.81,1694.2 L2309.44,1694.3 L2314.08,1694.3 L2318.74,1694.4 L2323.41,1694.4 L2328.09,1694.5 L2332.78,1694.5 L2337.49,1694.6 L2342.21,1694.6 L2346.94,1694.7 L2351.69,1694.7 L2356.44,1694.8 L2361.21,1694.8 L2365.99,1694.9 L2370.79,1694.9 L2375.60,1695.0 L2380.42,1695.0 L2385.25,1695.1 L2390.10,1695.1 L2394.96,1695.2 L2399.83,1695.2 L2404.71,1695.3 L2409.61,1695.4 L2414.52,1695.4 L2419.45,1695.5 L2424.39,1695.5 L2429.34,1695.6 L2434.30,1695.6 L2439.28,1695.7 L2444.27,1695.7 L2449.27,1695.8 L2454.29,1695.8 L2459.32,1695.9 L2464.37,1695.9 L2469.42,1696.0 L2474.50,1696.0 L2479.58,1696.1 L2484.68,1696.1 L2489.79,1696.2 L2494.92,1696.2 L2500.06,1696.3 L2505.21,1696.3 L2510.38,1696.4 L2515.56,1696.4 L2520.75,1696.5 L2525.96,1696.5 L2531.18,1696.6 L2536.42,1696.6 L2541.67,1696.7 L2546.93,1696.7 L2552.21,1696.8 L2557.50,1696.8 L2562.81,1696.9 L2568.13,1696.9 L2573.46,1697.0 L2578.81,1697.0 L2584.18,1697.1 L2589.55,1697.1 L2594.95,1697.2 L2600.35,1697.2 L2605.77,1697.3 L2611.21,1697.4 L2616.66,1697.4 L2622.12,1697.5 L2627.60,1697.5 L2633.10,1697.6 L2638.60,1697.6 L2644.13,1697.7 L2649.67,1697.7 L2655.22,1697.8 L2660.79,1697.8 L2666.37,1697.9 L2671.96,1697.9 L2677.58,1698.0 L2683.20,1698.0 L2688.85,1698.1 L2694.50,1698.1 L2700.18,1698.2 L2705.86,1698.2 L2711.57,1698.3 L2717.28,1698.3 L2723.02,1698.4 L2728.77,1698.4 L2734.53,1698.5 L2740.31,1698.5 L2746.10,1698.6 L2751.91,1698.6 L2757.74,1698.7 L2763.58,1698.7 L2769.44,1698.8 L2775.31,1698.8 L2781.20,1698.9 L2787.10,1698.9 L2793.02,1699.0 L2798.96,1699.0 L2804.91,1699.1 L2810.87,1699.1 L2816.86,1699.2 L2822.86,1699.2 L2826.87,1699.3 L2830.88,1699.3 L2834.90,1699.3 L2838.93,1699.4 L2842.97,1699.4 L2847.01,1699.5 L2851.07,1699.5 L2855.12,1699.5 L2859.19,1699.6 L2863.26,1699.6 L2867.34,1699.6 L2871.43,1699.7 L2875.52,1699.7 L2879.63,1699.7 L2883.74,1699.8 L2887.85,1699.8 L2891.98,1699.8 L2896.11,1699.9 L2900.25,1699.9 L2904.39,1699.9 L2908.55,1700.0 L2912.71,1700.0 L2916.88,1700.0 L2921.05,1700.1 L2925.23,1700.1 L2929.42,1700.1 L2933.62,1700.2 L2937.83,1700.2 L2942.04,1700.2 L2946.26,1700.3 L2950.49,1700.3 L2954.72,1700.3 L2958.97,1700.4 L2963.22,1700.4 L2967.48,1700.4 L2971.74,1700.5 L2976.01,1700.5 L2980.30,1700.5 L2984.58,1700.6 L2988.88,1700.6 L2993.18,1700.6 L2997.50,1700.7 L3001.81,1700.7 L3006.14,1700.7 L3010.48,1700.8 L3014.82,1700.8 L3019.17,1700.8 L3023.53,1700.9 L3027.89,1700.9 L3032.26,1700.9 L3036.64,1701.0 L3041.03,1701.0 L3045.43,1701.1 L3049.83,1701.1 L3054.25,1701.1 L3058.67,1701.2 L3063.09,1701.2 L3067.53,1701.2 L3071.97,1701.3 L3076.43,1701.3 L3080.89,1701.3 L3085.35,1701.4 L3089.83,1701.4 L3094.31,1701.4 L3098.80,1701.5 L3103.30,1701.5 L3107.81,1701.5 L3112.33,1701.6 L3116.85,1701.6 L3121.38,1701.6 L3125.92,1701.7 L3130.47,1701.7 L3135.02,1701.7 L3139.59,1701.8 L3144.16,1701.8 L3148.74,1701.8 L3153.33,1701.9 L3157.92,1701.9 L3162.53,1701.9 L3167.14,1702.0 L3171.76,1702.0 L3176.39,1702.0 L3181.03,1702.1 L3185.67,1702.1 L3190.33,1702.1 L3194.99,1702.2 L3199.66,1702.2 L3204.34,1702.2 L3209.03,1702.3 L3213.72,1702.3 L3218.43,1702.3 L3223.14,1702.4 L3227.86,1702.4 L3232.59,1702.4 L3237.33,1702.5 L3242.07,1702.5 L3246.83,1702.5 L3251.59,1702.6 L3256.36,1702.6 L3261.14,1702.6 L3265.93,1702.7 L3270.72,1702.7 L3275.53,1702.7 L3280.34,1702.8 L3285.17,1702.8 L3290.00,1702.9 L3294.84,1702.9 L3299.69,1702.9 L3304.54,1703.0 L3309.41,1703.0 L3314.28,1703.0 L3319.16,1703.1 L3324.06,1703.1 L3328.96,1703.1 L3333.87,1703.2 L3338.78,1703.2 L3343.71,1703.2 L3348.64,1703.3 L3353.59,1703.3 L3358.54,1703.3 L3363.50,1703.4 L3368.47,1703.4 L3373.45,1703.4 L3378.44,1703.5 L3383.44,1703.5 L3388.44,1703.5 L3393.46,1703.6 L3398.48,1703.6 L3403.51,1703.6 L3408.56,1703.7 L3413.61,1703.7 L3418.67,1703.7 L3423.74,1703.8 L3428.81,1703.8 L3433.90,1703.8 L3439.00,1703.9 L3444.10,1703.9 L3449.21,1703.9 L3454.34,1704.0 L3459.47,1704.0 L3464.61,1704.0 L3469.76,1704.1 L3474.92,1704.1 L3480.09,1704.1 L3485.27,1704.2 L3490.45,1704.2 L3495.65,1704.2 L3500.86,1704.3 L3506.07,1704.3 L3511.29,1704.3 L3516.53,1704.4 L3521.77,1704.4 L3527.02,1704.4 L3532.28,1704.5 L3537.56,1704.5 L3542.84,1704.5 L3548.12,1704.6 L3553.42,1704.6 L3558.73,1704.6 L3564.05,1704.7 L3569.38,1704.7 L3574.71,1704.8 L3580.06,1704.8 L3585.42,1704.8 L3590.78,1704.9 L3596.16,1704.9 L3601.54,1704.9 L3606.93,1705.0 L3612.34,1705.0 L3617.75,1705.0 L3623.17,1705.1 L3628.61,1705.1 L3634.05,1705.1 L3639.50,1705.2 L3644.96,1705.2 L3650.43,1705.2 L3655.92,1705.3 L3661.41,1705.3 L3666.91,1705.3 L3672.42,1705.4 L3677.94,1705.4 L3683.47,1705.4 L3689.01,1705.5 L3694.56,1705.5 L3700.12,1705.5 L3705.69,1705.6 L3711.27,1705.6 L3716.85,1705.6 L3722.45,1705.7 L3728.06,1705.7 L3733.68,1705.7 L3739.31,1705.8 L3744.95,1705.8 L3750.60,1705.8 L3756.26,1705.9 L3761.93,1705.9 L3767.61,1705.9 L3773.30,1706.0 L3779.00,1706.0 L3784.71,1706.0 L3790.43,1706.1 L3796.16,1706.1 L3801.90,1706.1 L3807.65,1706.2 L3813.41,1706.2 L3819.18,1706.2 L3824.96,1706.3 L3830.75,1706.3 L3836.55,1706.3 L3842.37,1706.4 L3848.19,1706.4 L3854.02,1706.4 L3859.87,1706.5 L3865.72,1706.5 L3871.58,1706.5 L3877.46,1706.6 L3883.34,1706.6 L3889.24,1706.6 L3895.15,1706.7 L3901.06,1706.7 L3906.99,1706.7 L3912.93,1706.8 L3918.87,1706.8 L3924.83,1706.9 L3930.80,1706.9 L3936.78,1706.9 L3942.77,1707.0 L3948.77,1707.0 L3954.79,1707.0 L3960.81,1707.1 L3966.84,1707.1 L3972.89,1707.1 L3978.94,1707.2 L3985.01,1707.2 L3991.08,1707.2 L3997.17,1707.3 L4003.27,1707.3 L4009.38,1707.3 L4015.50,1707.4 L4021.63,1707.4 L4027.77,1707.4 L4033.92,1707.5 L4040.09,1707.5 L4046.26,1707.5 L4052.45,1707.6 L4058.64,1707.6 L4064.85,1707.6 L4071.07,1707.7 L4077.30,1707.7 L4083.54,1707.7 L4089.79,1707.8 L4096.05,1707.8 L4102.33,1707.8 L4108.61,1707.9 L4114.91,1707.9 L4121.22,1707.9 L4127.54,1708.0 L4133.87,1708.0 L4140.21,1708.0 L4146.56,1708.1 L4152.92,1708.1 L4159.30,1708.1 L4165.69,1708.2 L4172.08,1708.2 L4178.49,1708.2 L4184.91,1708.3 L4191.35,1708.3 L4197.79,1708.3 L4204.25,1708.4 L4210.71,1708.4 L4217.19,1708.4 L4223.68,1708.5 L4230.18,1708.5 L4236.69,1708.5 L4243.22,1708.6 L4249.75,1708.6 L4256.30,1708.6 L4262.86,1708.7 L4269.43,1708.7 L4276.01,1708.7 L4282.61,1708.8 L4289.21,1708.8 L4295.83,1708.8 L4302.46,1708.9 L4309.10,1708.9 L4315.76,1708.9 L4322.42,1709.0 L4329.10,1709.0 L4335.79,1709.0 L4342.49,1709.1 L4349.20,1709.1 L4355.93,1709.1" fill="none" stroke="#c1161c" stroke-width="9.0"/>
<polygon points="603.6,1473.8 587.6,1500.8 619.6,1500.8" fill="#c1161c"/>
<polygon points="659.6,1626.8 643.6,1653.8 675.6,1653.8" fill="#c1161c"/>
<polygon points="699.0,1618.8 683.0,1645.8 715.0,1645.8" fill="#c1161c"/>
<polygon points="736.0,1642.8 720.0,1669.8 752.0,1669.8" fill="#c1161c"/>
<polygon points="1731.5,1646.8 1715.5,1673.8 1747.5,1673.8" fill="#c1161c"/>
<polygon points="2108.2,1673.8 2092.2,1700.8 2124.2,1700.8" fill="#c1161c"/>
<polygon points="3986.7,1668.8 3970.7,1695.8 4002.7,1695.8" fill="#c1161c"/>
<circle cx="603.9" cy="1068.4" r="12.5" fill="none" stroke="#58595b" stroke-width="6"/>
<circle cx="640.5" cy="1437.0" r="12.5" fill="none" stroke="#58595b" stroke-width="6"/>
<circle cx="731.7" cy="1602.4" r="12.5" fill="none" stroke="#58595b" stroke-width="6"/>
<circle cx="748.5" cy="1497.0" r="12.5" fill="none" stroke="#58595b" stroke-width="6"/>
<circle cx="1079.4" cy="1611.7" r="12.5" fill="none" stroke="#58595b" stroke-width="6"/>
<circle cx="1592.7" cy="1622.9" r="12.5" fill="none" stroke="#58595b" stroke-width="6"/>
<circle cx="2003.4" cy="1657.8" r="12.5" fill="none" stroke="#58595b" stroke-width="6"/>
<circle cx="3668.3" cy="1664.0" r="12.5" fill="none" stroke="#58595b" stroke-width="6"/>
</g>
<rect x="419.5" y="93" width="4034.0" height="10.7" fill="#231f20"/>
<rect x="419.5" y="1806.3" width="4034.0" height="10.7" fill="#231f20"/>
<rect x="419.5" y="93" width="7.4" height="1724" fill="#231f20"/>
<rect x="4446.1" y="93" width="7.4" height="1724" fill="#231f20"/>
<rect x="381" y="1747.00" width="39" height="8" fill="#231f20"/>
<rect x="381" y="1482.16" width="39" height="8" fill="#231f20"/>
<rect x="381" y="1217.33" width="39" height="8" fill="#231f20"/>
<rect x="381" y="952.50" width="39" height="8" fill="#231f20"/>
<rect x="381" y="687.66" width="39" height="8" fill="#231f20"/>
<rect x="381" y="422.83" width="39" height="8" fill="#231f20"/>
<rect x="381" y="157.99" width="39" height="8" fill="#231f20"/>
<rect x="565.75" y="1816" width="9.5" height="38.8" fill="#231f20"/>
<rect x="1244.75" y="1816" width="9.5" height="38.8" fill="#231f20"/>
<rect x="1923.25" y="1816" width="9.5" height="38.8" fill="#231f20"/>
<rect x="2599.75" y="1816" width="9.5" height="38.8" fill="#231f20"/>
<rect x="3279.05" y="1816" width="9.5" height="38.8" fill="#231f20"/>
<rect x="3958.75" y="1816" width="9.5" height="38.8" fill="#231f20"/>
<g font-family="Liberation Sans, sans-serif">
<text x="314.68" y="1788.80" font-size="92.5" fill="#231f20" stroke="#fff" stroke-width="1.6">0</text>
<text x="314.95" y="1523.96" font-size="92.5" fill="#231f20" stroke="#fff" stroke-width="1.6">5</text>
<text x="266.25" y="1259.13" font-size="92.5" fill="#231f20" stroke="#fff" stroke-width="1.6">10</text>
<text x="266.52" y="994.29" font-size="92.5" fill="#231f20" stroke="#fff" stroke-width="1.6">15</text>
<text x="266.25" y="729.46" font-size="92.5" fill="#231f20" stroke="#fff" stroke-width="1.6">20</text>
<text x="266.52" y="464.63" font-size="92.5" fill="#231f20" stroke="#fff" stroke-width="1.6">25</text>
<text x="266.25" y="199.79" font-size="92.5" fill="#231f20" stroke="#fff" stroke-width="1.6">30</text>
<text transform="translate(544.31,1930.80) scale(1.0270,1)" font-size="93.5" fill="#231f20" stroke="#fff" stroke-width="1.6">0</text>
<text transform="translate(1172.27,1930.80) scale(0.9903,1)" font-size="93.5" fill="#231f20" stroke="#fff" stroke-width="1.6">200</text>
<text transform="translate(1853.31,1930.80) scale(0.9736,1)" font-size="93.5" fill="#231f20" stroke="#fff" stroke-width="1.6">400</text>
<text transform="translate(2527.17,1930.80) scale(0.9909,1)" font-size="93.5" fill="#231f20" stroke="#fff" stroke-width="1.6">600</text>
<text transform="translate(3207.24,1930.80) scale(0.9859,1)" font-size="93.5" fill="#231f20" stroke="#fff" stroke-width="1.6">800</text>
<text transform="translate(3865.37,1930.80) scale(0.9331,1)" font-size="93.5" fill="#231f20" stroke="#fff" stroke-width="1.6">1000</text>
<text transform="translate(121.07,1101.44) rotate(-90)" font-size="91" fill="#231f20" stroke="#fff" stroke-width="1.6">CV (%)</text>
<text id="xt" transform="translate(2129.89,2094.8) scale(0.9261,1)" x="0" y="0" font-size="93" fill="#060a2b">PLT-O (10<tspan font-size="58" dy="-29">9</tspan><tspan dy="29">/L)</tspan></text>
<rect x="1584.5" y="317.4" width="1085.3000000000002" height="788.1999999999999" fill="#ffffff"/>
<rect x="1584.5" y="317.4" width="1085.3000000000002" height="7.4" fill="#231f20"/>
<rect x="1584.5" y="1098" width="1085.3000000000002" height="7.6" fill="#231f20"/>
<rect x="1584.5" y="317.4" width="10.3" height="788.1999999999999" fill="#231f20"/>
<rect x="2659.2" y="317.4" width="10.6" height="788.1999999999999" fill="#231f20"/>
<rect x="1668.3" y="404.1" width="31.6" height="31.6" fill="#bdbec0"/>
<circle cx="1686.7" cy="520.0" r="18.8" fill="#b3b4b6"/>
<polygon points="1683.5,585.8 1657.8,628.9 1709.2,628.9" fill="#c1161c"/>
<polygon points="1683.5,694.7 1698.5,711.2 1683.5,727.7 1668.5,711.2" fill="#a5a6a8"/>
<circle cx="1685.2" cy="813.1" r="19.7" fill="#88898b"/>
<circle cx="1682.5" cy="908.5" r="14.2" fill="#77787a"/>
<circle cx="1684.0" cy="1003.7" r="15.5" fill="none" stroke="#58595b" stroke-width="6"/>
<text transform="translate(1778.65,454.90) scale(0.9874,1)" font-size="74" fill="#231f20" stroke="#fff" stroke-width="1.6">Advia2120i</text>
<text transform="translate(1777.42,547.10) scale(0.9861,1)" font-size="74" fill="#231f20" stroke="#fff" stroke-width="1.6">BC-6800</text>
<text transform="translate(1776.63,646.40) scale(0.9831,1)" font-size="74" fill="#231f20" stroke="#fff" stroke-width="1.6">BC-6800 plus</text>
<text transform="translate(1777.78,744.70) scale(0.9596,1)" font-size="74" fill="#231f20" stroke="#fff" stroke-width="1.6">Cell-Dyn Sapphire</text>
<text transform="translate(1776.82,841.30) scale(0.9882,1)" font-size="74" fill="#231f20" stroke="#fff" stroke-width="1.6">XE-2100</text>
<text transform="translate(1776.82,940.00) scale(0.9882,1)" font-size="74" fill="#231f20" stroke="#fff" stroke-width="1.6">XE-5000</text>
<text transform="translate(1776.84,1039.10) scale(0.9762,1)" font-size="74" fill="#231f20" stroke="#fff" stroke-width="1.6">XN-module</text>
</g></svg>
</body></html>
